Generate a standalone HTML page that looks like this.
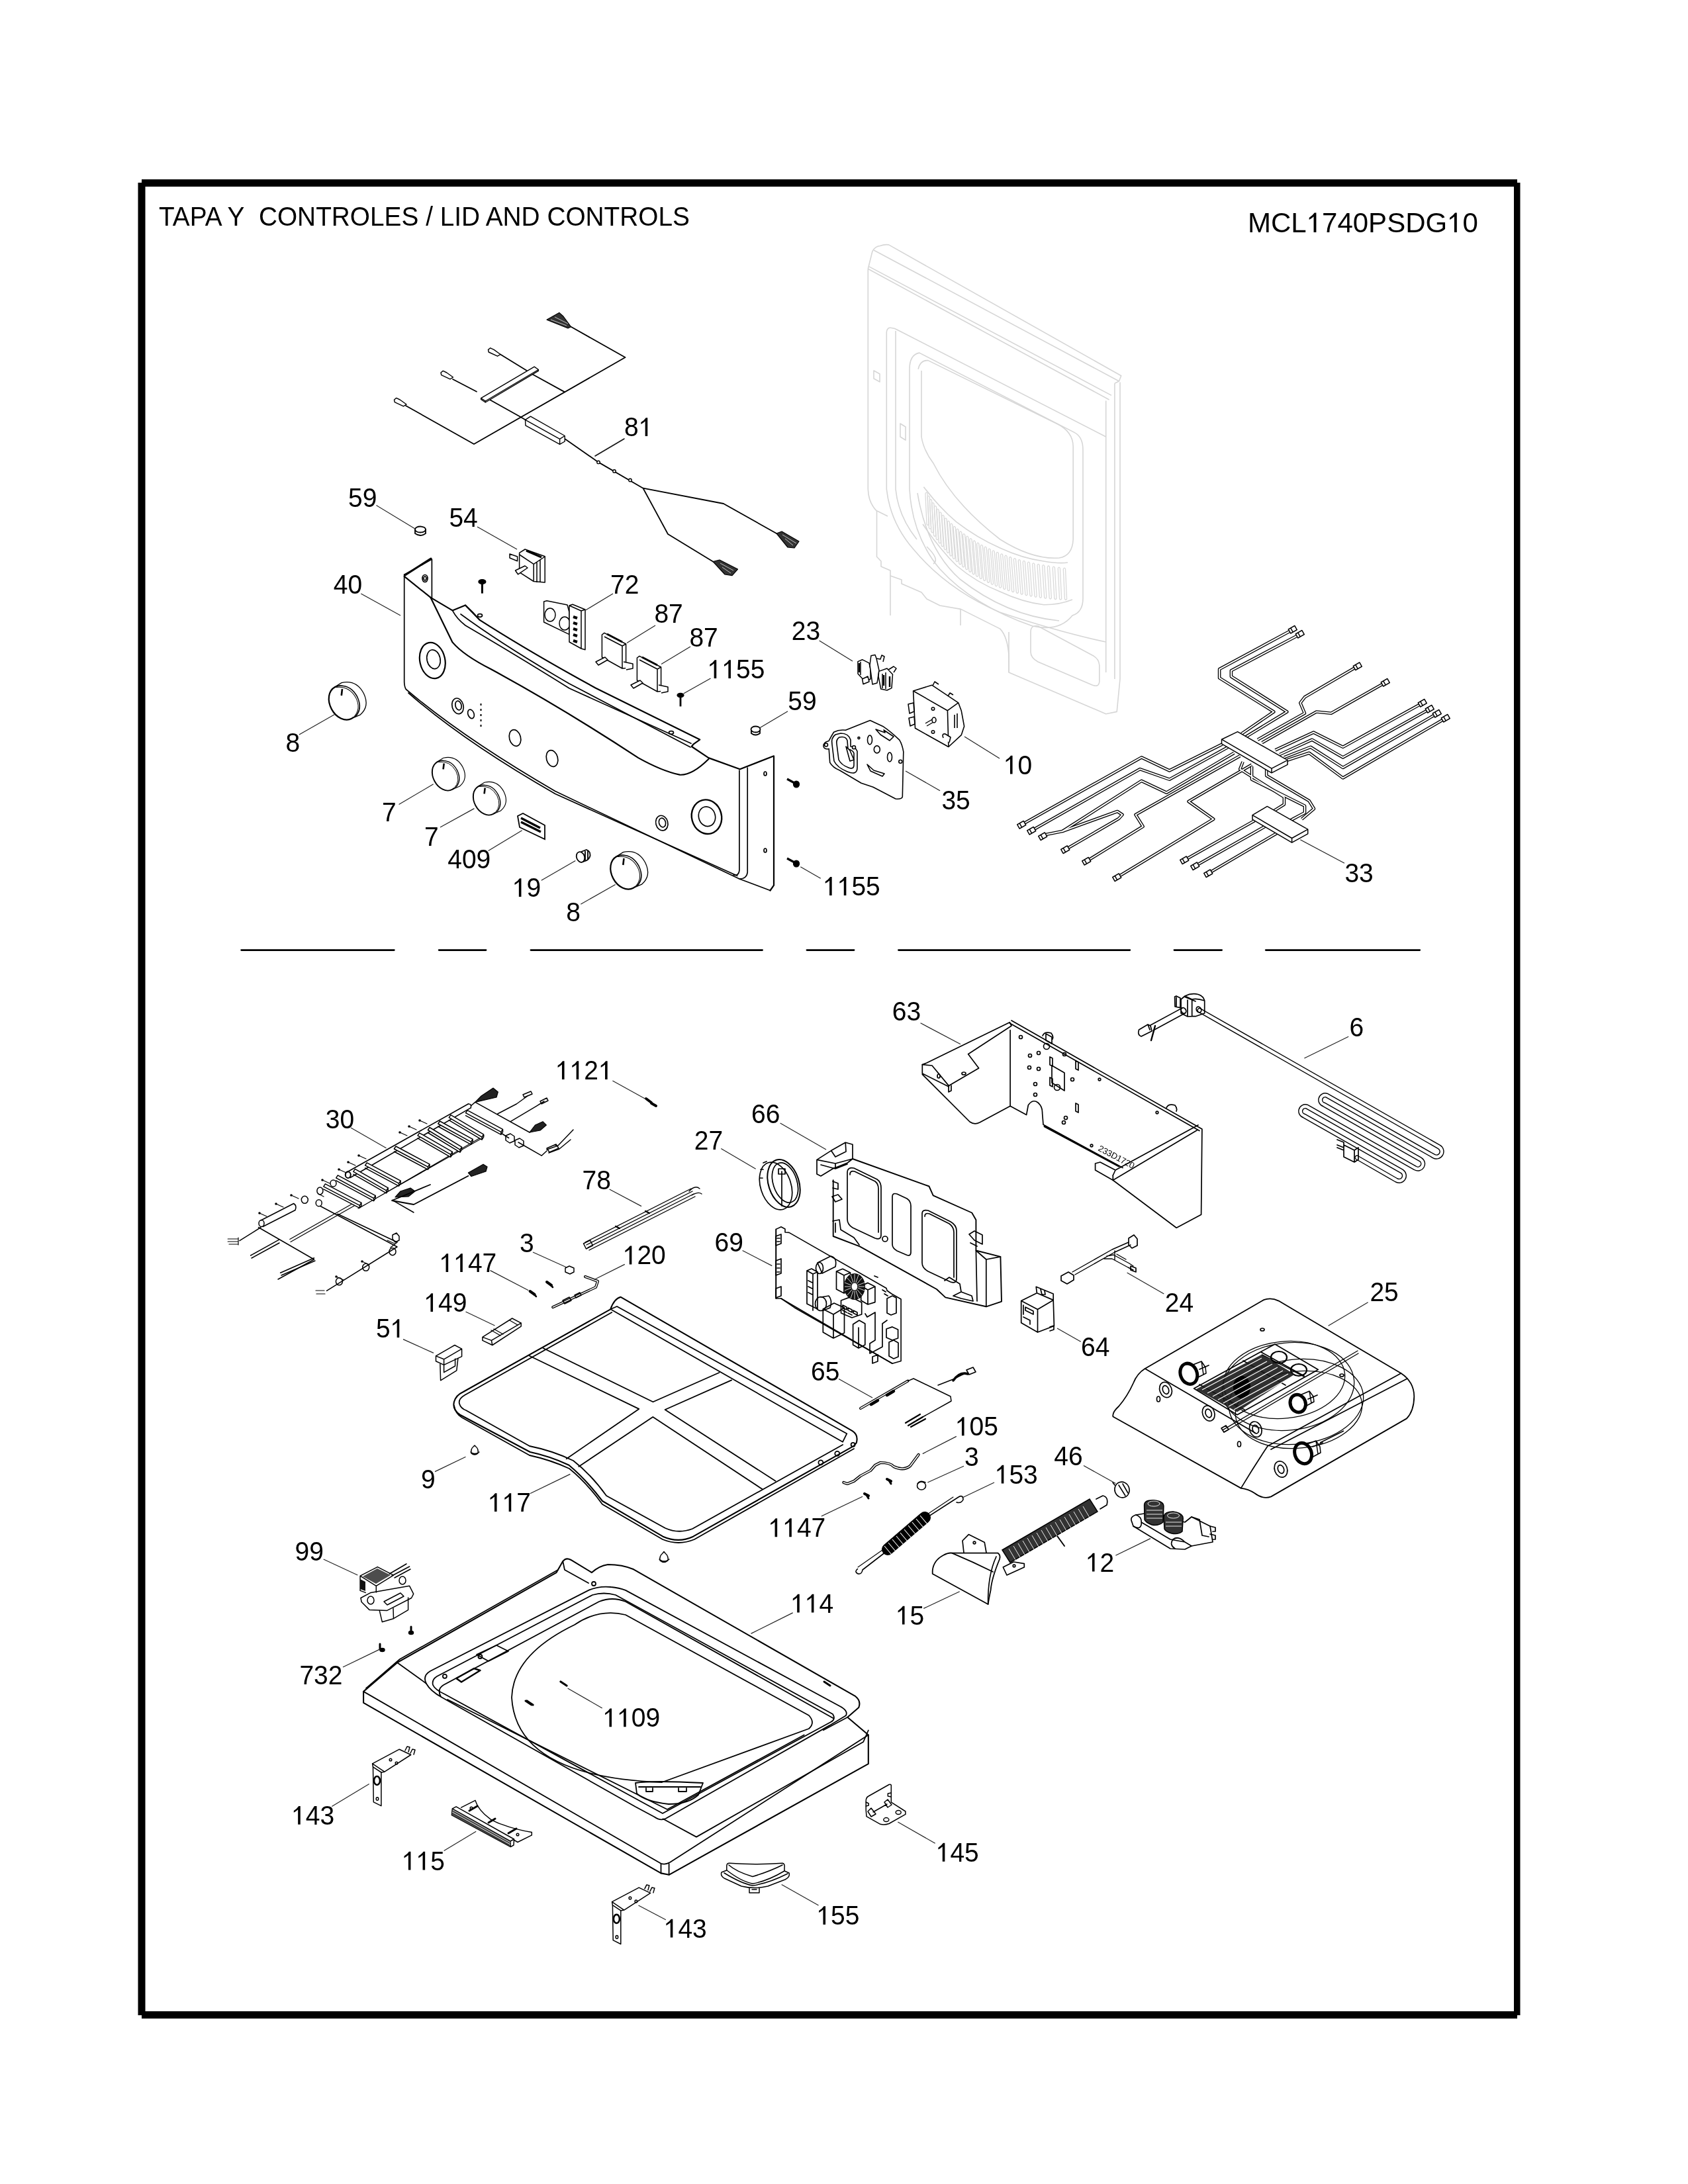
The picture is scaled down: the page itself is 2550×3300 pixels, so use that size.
<!DOCTYPE html><html><head><meta charset="utf-8"><style>html,body{margin:0;padding:0;background:#fff;width:2550px;height:3300px;overflow:hidden}svg{display:block;will-change:transform}text{font-family:"Liberation Sans",sans-serif;fill:#000}</style></head><body>
<svg width="2550" height="3300" viewBox="0 0 2550 3300">
<g fill="#000"><rect x="214" y="271" width="2078" height="11"/><rect x="208.5" y="276" width="11" height="2769"/><rect x="2287" y="276" width="9.5" height="2769"/><rect x="214" y="3039" width="2078" height="11"/></g>
<text x="240" y="341" font-size="38.8" transform="translate(240,341) scale(1,1.04) translate(-240,-341)">TAPA Y&#160; CONTROLES / LID AND CONTROLS</text>
<text x="1885" y="351" font-size="42">MCL<tspan fill="transparent">1</tspan>740PSDG<tspan fill="transparent">1</tspan>0</text>
<path d="M10.84,0 L14.70,0 L14.70,-29.40 L11.97,-29.40 Q9.24,-25.20 3.99,-22.05 L3.99,-19.11 Q7.98,-21.00 10.84,-23.73 Z" fill="#000" transform="translate(1973.7,351)"/>
<path d="M10.84,0 L14.70,0 L14.70,-29.40 L11.97,-29.40 Q9.24,-25.20 3.99,-22.05 L3.99,-19.11 Q7.98,-21.00 10.84,-23.73 Z" fill="#000" transform="translate(2186.1,351)"/>
<g stroke="#000" stroke-width="2.8" stroke-linecap="round">
<line x1="364.7" y1="1435.6" x2="595.3" y2="1435.6"/>
<line x1="663.2" y1="1435.6" x2="734" y2="1435.6"/>
<line x1="802" y1="1435.6" x2="1151.5" y2="1435.6"/>
<line x1="1219" y1="1435.6" x2="1290" y2="1435.6"/>
<line x1="1357.5" y1="1435.6" x2="1706.8" y2="1435.6"/>
<line x1="1774" y1="1435.6" x2="1845.6" y2="1435.6"/>
<line x1="1912.3" y1="1435.6" x2="2144.7" y2="1435.6"/>
</g>
<g fill="none" stroke="#d6d6d6" stroke-width="1.6" stroke-linejoin="round">
<path d="M1311.3,406.2 L1317.9,379.8 Q1322,372 1329.5,371.5 Q1336,369 1342.6,369.9 L1693.7,567.7 L1690.5,576 L1683.9,579.2"/>
<path d="M1320,378 L1690.5,576 M1313,402.9 L1679,597.4 M1311.3,406.2 L1675.6,604"/>
<path d="M1670.7,605.6 L1670.7,1016 M1683.9,579.2 L1683.9,1026 M1692,577.6 L1692,1026"/>
<path d="M1311.3,406.2 L1311.3,739.1 Q1312,760 1324.5,772.1 L1324.5,841.3 L1331,848 L1331,856 L1345,862 L1345,870 L1362,876 L1362,882 L1392,895 L1400,905 L1420,915 L1451.4,920.4 L1510.8,950.1 Q1522,962 1524,990 L1524,1016 L1670.7,1078.7 L1687.2,1075.4 L1692,1026"/>
<path d="M1339.3,501.8 Q1340,494 1347,495.5 Q1352,496 1355.8,498.5 L1670.7,660 M1339.3,501.8 L1339.3,739.1 Q1345,790 1380,830 Q1430,890 1510,925 Q1600,955 1670.7,970"/>
<path d="M1353,500 L1353,739 Q1357,780 1385,815"/>
<path d="M1374,557.8 Q1374,536 1388.8,533.1 L1622.9,653.4 Q1636,660 1636,680 L1636,904 Q1636,925 1620,930 Q1600,955 1560,946 Q1470,915 1420,860 Q1378,810 1374,739 Z"/>
<path d="M1387.1,557.8 Q1390,544 1402,544.6 L1596.5,640.2 Q1621,652 1621.2,675 L1621.2,815 Q1620,840 1600,843 Q1560,846 1510.8,815 Q1440,760 1410,700 Q1395,680 1392,660 L1392,560"/>
<path d="M1395.4,735.8 Q1420,768 1444.8,788.6 Q1475,812 1510.8,828.1 Q1545,844 1576.7,848 Q1600,852 1613,850"/>
<path d="M1394,792 Q1420,830 1444.8,854.5 Q1475,880 1510.8,894 Q1545,910 1576.7,913.8 Q1600,914 1620,906"/>
<path d="M1386,745 Q1400,830 1450,875 Q1520,930 1600,938"/>
<path d="M1325,772 L1341,780 M1400,826 Q1420,845 1410,852 M1524,1016 L1524,955 M1557,955 Q1557,944 1568,946 L1650,990 Q1660,995 1660.8,1005 L1660.8,1030 Q1660,1039 1650,1035 L1568,1000 Q1557,994 1557,985 Z"/>
<path d="M1345,870 L1345,930 M1451,920 L1451,945 M1320,560 l0,12 l9,5 l0,-12 Z M1360,640 l0,20 l8,5 l0,-20 Z"/>
</g>
<g fill="none" stroke="#dadada" stroke-width="1.3">
<path d="M1397.9,745.7 L1400.0,792.0 Q1401.6,795.0 1403.2,792.0 L1401.1,745.7 Q1399.5,742.7 1397.9,745.7"/>
<path d="M1401.1,750.9 L1403.4,797.7 Q1405.0,800.7 1406.6,797.7 L1404.3,750.9 Q1402.7,747.9 1401.1,750.9"/>
<path d="M1404.3,756.0 L1406.9,803.4 Q1408.5,806.4 1410.1,803.4 L1407.5,756.0 Q1405.9,753.0 1404.3,756.0"/>
<path d="M1407.7,761.1 L1410.6,808.9 Q1412.2,811.9 1413.8,808.9 L1410.9,761.1 Q1409.3,758.1 1407.7,761.1"/>
<path d="M1411.3,765.9 L1414.3,814.2 Q1415.9,817.2 1417.5,814.2 L1414.5,765.9 Q1412.9,762.9 1411.3,765.9"/>
<path d="M1415.0,770.7 L1418.2,819.4 Q1419.8,822.4 1421.4,819.4 L1418.2,770.7 Q1416.6,767.7 1415.0,770.7"/>
<path d="M1418.8,775.3 L1422.2,824.4 Q1423.8,827.4 1425.4,824.4 L1422.0,775.3 Q1420.4,772.3 1418.8,775.3"/>
<path d="M1422.8,779.9 L1426.4,829.3 Q1428.0,832.3 1429.6,829.3 L1426.0,779.9 Q1424.4,776.9 1422.8,779.9"/>
<path d="M1426.9,784.3 L1430.6,834.0 Q1432.2,837.0 1433.8,834.0 L1430.1,784.3 Q1428.5,781.3 1426.9,784.3"/>
<path d="M1431.2,788.6 L1435.0,838.6 Q1436.6,841.6 1438.2,838.6 L1434.3,788.6 Q1432.8,785.6 1431.2,788.6"/>
<path d="M1435.5,792.7 L1439.5,843.0 Q1441.1,846.0 1442.7,843.0 L1438.7,792.7 Q1437.1,789.7 1435.5,792.7"/>
<path d="M1440.1,796.8 L1444.2,847.3 Q1445.8,850.3 1447.4,847.3 L1443.3,796.8 Q1441.7,793.8 1440.1,796.8"/>
<path d="M1444.7,800.7 L1448.9,851.4 Q1450.5,854.4 1452.1,851.4 L1447.9,800.7 Q1446.3,797.7 1444.7,800.7"/>
<path d="M1449.5,804.5 L1453.8,855.4 Q1455.4,858.4 1457.0,855.4 L1452.7,804.5 Q1451.1,801.5 1449.5,804.5"/>
<path d="M1454.5,808.2 L1458.8,859.2 Q1460.4,862.2 1462.0,859.2 L1457.7,808.2 Q1456.1,805.2 1454.5,808.2"/>
<path d="M1459.5,811.7 L1464.0,862.9 Q1465.6,865.9 1467.2,862.9 L1462.7,811.7 Q1461.1,808.7 1459.5,811.7"/>
<path d="M1464.8,815.2 L1469.2,866.4 Q1470.8,869.4 1472.4,866.4 L1468.0,815.2 Q1466.4,812.2 1464.8,815.2"/>
<path d="M1470.1,818.5 L1474.6,869.7 Q1476.2,872.7 1477.8,869.7 L1473.3,818.5 Q1471.7,815.5 1470.1,818.5"/>
<path d="M1475.6,821.7 L1480.1,873.0 Q1481.7,876.0 1483.3,873.0 L1478.8,821.7 Q1477.2,818.7 1475.6,821.7"/>
<path d="M1481.2,824.8 L1485.7,876.0 Q1487.3,879.0 1488.9,876.0 L1484.4,824.8 Q1482.8,821.8 1481.2,824.8"/>
<path d="M1487.0,827.7 L1491.5,878.9 Q1493.1,881.9 1494.7,878.9 L1490.2,827.7 Q1488.6,824.7 1487.0,827.7"/>
<path d="M1492.9,830.6 L1497.4,881.7 Q1499.0,884.7 1500.6,881.7 L1496.1,830.6 Q1494.5,827.6 1492.9,830.6"/>
<path d="M1499.0,833.3 L1503.4,884.3 Q1505.0,887.3 1506.6,884.3 L1502.2,833.3 Q1500.6,830.3 1499.0,833.3"/>
<path d="M1505.1,835.9 L1509.5,886.7 Q1511.1,889.7 1512.7,886.7 L1508.3,835.9 Q1506.7,832.9 1505.1,835.9"/>
<path d="M1511.5,838.4 L1515.8,889.0 Q1517.4,892.0 1519.0,889.0 L1514.7,838.4 Q1513.1,835.4 1511.5,838.4"/>
<path d="M1517.9,840.7 L1522.1,891.1 Q1523.7,894.1 1525.3,891.1 L1521.1,840.7 Q1519.5,837.7 1517.9,840.7"/>
<path d="M1524.5,843.0 L1528.6,893.1 Q1530.2,896.1 1531.8,893.1 L1527.7,843.0 Q1526.1,840.0 1524.5,843.0"/>
<path d="M1531.3,845.1 L1535.3,894.9 Q1536.9,897.9 1538.5,894.9 L1534.5,845.1 Q1532.9,842.1 1531.3,845.1"/>
<path d="M1538.2,847.1 L1542.0,896.6 Q1543.6,899.6 1545.2,896.6 L1541.3,847.1 Q1539.8,844.1 1538.2,847.1"/>
<path d="M1545.2,848.9 L1548.9,898.2 Q1550.5,901.2 1552.1,898.2 L1548.4,848.9 Q1546.8,845.9 1545.2,848.9"/>
<path d="M1552.3,850.7 L1555.9,899.5 Q1557.5,902.5 1559.1,899.5 L1555.5,850.7 Q1553.9,847.7 1552.3,850.7"/>
<path d="M1559.6,852.3 L1563.0,900.8 Q1564.6,903.8 1566.2,900.8 L1562.8,852.3 Q1561.2,849.3 1559.6,852.3"/>
<path d="M1567.0,853.8 L1570.3,901.8 Q1571.9,904.8 1573.5,901.8 L1570.2,853.8 Q1568.6,850.8 1567.0,853.8"/>
<path d="M1574.6,855.2 L1577.7,902.7 Q1579.3,905.7 1580.9,902.7 L1577.8,855.2 Q1576.2,852.2 1574.6,855.2"/>
<path d="M1582.3,856.5 L1585.2,903.5 Q1586.8,906.5 1588.4,903.5 L1585.5,856.5 Q1583.9,853.5 1582.3,856.5"/>
<path d="M1590.2,857.6 L1592.8,904.1 Q1594.4,907.1 1596.0,904.1 L1593.4,857.6 Q1591.8,854.6 1590.2,857.6"/>
<path d="M1598.2,858.7 L1600.5,904.6 Q1602.1,907.6 1603.7,904.6 L1601.4,858.7 Q1599.8,855.7 1598.2,858.7"/>
<path d="M1606.3,859.6 L1608.4,904.9 Q1610.0,907.9 1611.6,904.9 L1609.5,859.6 Q1607.9,856.6 1606.3,859.6"/>
</g>
<g fill="none" stroke="#000" stroke-width="1.8" stroke-linejoin="round" stroke-linecap="round">
<path d="M862.6,493.8 L944.5,540 L716,671 L613,613"/>
<path d="M684,573 L720,591.7 M739,603.5 L786.4,630 L793.5,634.3"/>
<path d="M756,535.5 L795.8,560 M803.4,565 L852.7,592.1"/>
<path d="M853.2,663 L904,698.4 L971.5,737.7 L1093,761 L1173,806 M971.5,737.7 L1009,807 L1077,848.5"/>
<path d="M899,689 L943,663" stroke-width="1.5" stroke="#111"/>
</g>
<g fill="#fff" stroke="#000" stroke-width="1.4" stroke-linejoin="round">
<path d="M726.6,601.6 L807.2,554.2 L813.4,558.5 L733.3,606 Z M733.3,606 L733.3,608 L813.4,560.4 L813.4,558.5 M726.6,601.6 L726.6,603.5 L733.3,608"/>
<path d="M793.5,634.3 L801.5,629.1 L853.2,658.5 L845.6,663.4 Z M793.5,634.3 L793.9,642.8 L845.6,671.3 L853.2,667 L853.2,658.5 M845.6,663.4 L845.6,671.3"/>
<circle cx="904" cy="698.4" r="2.2"/><circle cx="928" cy="712" r="2.2"/><circle cx="952" cy="725.5" r="2.2"/>
<path d="M737.5,528.4 L740.8,525.8 L746.2,528.4 L756,535.5 L751.5,538.2 L738.2,532 Z"/>
<path d="M666,563 L669.3,560.4 L674.7,563 L684.5,570 L680,572.8 L666.7,566.6 Z"/>
<path d="M595.5,604 L598.8,601.4 L604.2,604 L614,611 L609.5,613.8 L596.2,607.6 Z"/>
</g>
<g fill="#333" stroke="#000" stroke-width="1.2" stroke-linejoin="round">
<path d="M826.1,483.1 L844.8,472.4 L851,478 L862.6,493.8 L858,496 L843,490 Z"/>
<path d="M1173,806 L1181,803 L1207,818 L1200,828 L1190,827 Z"/>
<path d="M1077,848.5 L1087,846 L1114.5,860 L1106,869.6 L1095,868 Z"/>
</g>
<g stroke="#fff" stroke-width="0.7">
<path d="M832,483 L856,492 M838,479 L858,489 M1182,808 L1203,821 M1186,814 L1198,824 M1088,851 L1108,862 M1091,857 L1104,866"/>
</g>
<g fill="none" stroke="#000" stroke-width="1.7" stroke-linejoin="round" stroke-linecap="round">
<!-- panel 40 outline -->
<path d="M610.7,868.2 L652.4,845.1 L652.4,902.9"/>
<path d="M610.7,870.9 L650.6,902.9 L683.5,922.4 L703,914.4 L724.4,936.6 Q800,985 900,1039.7 L1057.2,1117.6 L1047.7,1124.3 L1044.8,1128 L1070.4,1145.1 L1117.8,1162.2 L1169,1142.3 L1169,1337.7 L1163.5,1345.5" stroke-width="2.2"/>
<path d="M612,869 L651,844" stroke-width="3"/>
<path d="M610.7,868.2 L610.7,1030.8 Q611,1038 613.3,1041.5 Q700,1115 838.8,1195.5 L1117,1328 L1163.5,1345.5"/>
<path d="M617,1047 Q700,1120 838.8,1199.5 L1113.7,1323.3"/>
<path d="M650.6,902.9 L683.5,970.4 Q700,990 742,1011.3 Q850,1070 964.3,1145.1 Q1000,1165 1026.8,1170.7 Q1045,1172 1070.4,1147" stroke-width="2.2"/>
<path d="M683.5,922.4 Q690,935 703,945 Q780,990 860,1040 L1043.9,1123.3"/>
<path d="M703,914.4 Q715,925 724.4,936.6"/>
<path d="M696,928 Q760,975 860,1033 L1043,1129"/>
<path d="M1116.9,1164 L1116.9,1315 Q1116,1324 1108,1322"/>
<path d="M1129.2,1160 L1129.2,1318 Q1128,1328 1117,1328"/>
<ellipse cx="653.3" cy="998" rx="19" ry="27.5" transform="rotate(-12 653.3 998)" stroke-width="2.2"/>
<ellipse cx="655" cy="996.2" rx="10" ry="14.5" transform="rotate(-12 655 996.2)"/>
<ellipse cx="691.5" cy="1066.8" rx="8.5" ry="12" transform="rotate(-15 691.5 1066.8)"/>
<ellipse cx="692.5" cy="1066" rx="4.5" ry="7" transform="rotate(-15 692.5 1066)"/>
<ellipse cx="711.5" cy="1078.8" rx="4.5" ry="7" transform="rotate(-20 711.5 1078.8)"/>
<ellipse cx="778" cy="1115" rx="8.5" ry="12.5" transform="rotate(-15 778 1115)"/>
<ellipse cx="834" cy="1146" rx="8.5" ry="12.5" transform="rotate(-15 834 1146)"/>
<ellipse cx="999.8" cy="1243.6" rx="9" ry="11.5" transform="rotate(-15 999.8 1243.6)"/>
<ellipse cx="1000.5" cy="1243" rx="5" ry="7" transform="rotate(-15 1000.5 1243)"/>
<ellipse cx="1067.5" cy="1234.2" rx="22.5" ry="26" transform="rotate(-15 1067.5 1234.2)" stroke-width="2.4"/>
<ellipse cx="1068" cy="1233.7" rx="12.5" ry="15" transform="rotate(-15 1068 1233.7)"/>
<ellipse cx="642" cy="874" rx="4" ry="5.5"/><ellipse cx="642" cy="874" rx="2" ry="3"/>
<ellipse cx="725" cy="930" rx="3.5" ry="2.3"/>
<ellipse cx="1014" cy="1107" rx="3.5" ry="2.3"/>
<ellipse cx="1156" cy="1169" rx="2" ry="3"/>
<ellipse cx="1156" cy="1285" rx="2" ry="3"/>
</g>
<g stroke="#000" stroke-width="2" stroke-dasharray="3,5"><path d="M726.5,1063 L726.5,1102"/></g>
<!-- knobs -->
<g fill="#fff" stroke="#000" stroke-width="1.8">
<g transform="translate(518.5,1062) scale(1.0) rotate(-28)">
<path d="M-2,-27 L12,-28 Q34,-22 34,2 Q33,24 14,28 L2,27" stroke-width="1.3"/>
<ellipse cx="0" cy="0" rx="20" ry="27" stroke-width="2.2"/>
<path d="M4,-26.5 Q23,-20 23,2 Q22,22 6,27" stroke-width="1.6"/>
<path d="M1,-26 Q20,-19 20.5,2 Q20,21 4,26.5" stroke-width="1"/>
</g>
<path d="M517.0,1041.0 l-1.2,10.0" stroke-width="2.6"/>
<g transform="translate(672,1172) scale(0.88) rotate(-28)">
<path d="M-2,-27 L12,-28 Q34,-22 34,2 Q33,24 14,28 L2,27" stroke-width="1.3"/>
<ellipse cx="0" cy="0" rx="20" ry="27" stroke-width="2.2"/>
<path d="M4,-26.5 Q23,-20 23,2 Q22,22 6,27" stroke-width="1.6"/>
<path d="M1,-26 Q20,-19 20.5,2 Q20,21 4,26.5" stroke-width="1"/>
</g>
<path d="M670.7,1153.5 l-1.1,8.8" stroke-width="2.6"/>
<g transform="translate(734,1209) scale(0.88) rotate(-28)">
<path d="M-2,-27 L12,-28 Q34,-22 34,2 Q33,24 14,28 L2,27" stroke-width="1.3"/>
<ellipse cx="0" cy="0" rx="20" ry="27" stroke-width="2.2"/>
<path d="M4,-26.5 Q23,-20 23,2 Q22,22 6,27" stroke-width="1.6"/>
<path d="M1,-26 Q20,-19 20.5,2 Q20,21 4,26.5" stroke-width="1"/>
</g>
<path d="M732.7,1190.5 l-1.1,8.8" stroke-width="2.6"/>
<g transform="translate(944,1318) scale(1.0) rotate(-28)">
<path d="M-2,-27 L12,-28 Q34,-22 34,2 Q33,24 14,28 L2,27" stroke-width="1.3"/>
<ellipse cx="0" cy="0" rx="20" ry="27" stroke-width="2.2"/>
<path d="M4,-26.5 Q23,-20 23,2 Q22,22 6,27" stroke-width="1.6"/>
<path d="M1,-26 Q20,-19 20.5,2 Q20,21 4,26.5" stroke-width="1"/>
</g>
<path d="M942.5,1297.0 l-1.2,10.0" stroke-width="2.6"/>
<!-- plugs 59 -->
<path d="M627,800 Q635,795 643,800 L643,806 Q635,812 627,806 Z"/><ellipse cx="635" cy="800" rx="8" ry="4.5"/>
<path d="M1134.9,1103 Q1141,1097 1148,1102 L1148,1108 Q1141,1113 1134.9,1108 Z"/><ellipse cx="1141.5" cy="1102" rx="7" ry="4.5"/>
<!-- 19 -->
<path d="M878,1287 L886,1284 Q892,1286 891.5,1293 Q890,1299 884,1301 L878,1303"/><ellipse cx="877" cy="1295" rx="6" ry="8" transform="rotate(-20 877 1295)"/><path d="M884,1286 l0,14 M888,1285 l0,13"/>
<!-- 409 badge -->
<path d="M782,1233 L790,1229 L823,1247 L823,1268 L785,1250 Z"/><path d="M787,1236 L816,1251 M787,1242 L817,1257" stroke-width="3.5"/>
</g>
<!-- screws -->
<g fill="#000" stroke="#000" stroke-width="1.2">
<ellipse cx="728.4" cy="879" rx="5.5" ry="3.5"/><path d="M728.4,881 L728.4,896.6" stroke-width="3"/>
<ellipse cx="1028" cy="1050.5" rx="5" ry="3.2"/><path d="M1028,1052 L1028,1067.4" stroke-width="2.8"/>
<ellipse cx="1203" cy="1185" rx="4.5" ry="5"/><path d="M1200,1183 L1189,1177" stroke-width="3.2"/>
<ellipse cx="1203" cy="1305" rx="4.5" ry="5"/><path d="M1200,1303 L1189,1297" stroke-width="3.2"/>
</g>
<!-- 54 switch -->
<g fill="#fff" stroke="#000" stroke-width="1.5" stroke-linejoin="round">
<path d="M784.6,835.4 L793.1,830 L823.2,840.8 L823.2,880 L806.2,878.5 L784.6,864.7 Z"/>
<path d="M784.6,838 L806.2,852.3 L806.2,878.5 M806.2,852.3 L823.2,841 M811,850 L811,880 M816,846 L816,880"/>
<path d="M770,837 L781.6,841 L781.6,847.7 L770,843 Z"/>
<path d="M778.5,862 L793,855 L797,858 L782.5,867.8 Z"/>
<path d="M795,832 L818,842" stroke-width="3"/>
</g>
<!-- 72 -->
<g fill="#fff" stroke="#000" stroke-width="1.5" stroke-linejoin="round">
<path d="M821.6,909 L826,907.8 L857,914 L860,925 L860,958.6 L821.6,940 Z"/>
<ellipse cx="831" cy="929" rx="8" ry="10"/><ellipse cx="853" cy="942" rx="8" ry="10"/>
<path d="M860,915 L865,913.2 L884,921 L884,981.7 L878,980 L860,970 Z M860,915 L878,923 L884,921 M878,923 L878,980"/>
<path d="M866,932 l6,2 M866,941 l6,2 M866,950 l6,2 M866,959 l6,2 M866,968 l6,2" stroke-width="4"/>
</g>
<!-- 87 x2 -->
<g fill="#fff" stroke="#000" stroke-width="1.5" stroke-linejoin="round">
<g transform="translate(0,0)"><path d="M909.4,959 L913,956.3 L945.6,973 L945.6,1009.5 L940,1010 L909.4,993 Z M913,962 L940,976 L940,1010 M940,976 L945.6,973"/><path d="M917,958 L940,970" stroke-width="3"/><path d="M900,1000 L914,993 L918,997 L904,1005 Z"/><path d="M942,1000 L956,1003 L956,1010 L946,1012"/></g>
<g transform="translate(53,35)"><path d="M909.4,959 L913,956.3 L945.6,973 L945.6,1009.5 L940,1010 L909.4,993 Z M913,962 L940,976 L940,1010 M940,976 L945.6,973"/><path d="M917,958 L940,970" stroke-width="3"/><path d="M900,1000 L914,993 L918,997 L904,1005 Z"/><path d="M942,1000 L956,1003 L956,1010 L946,1012"/></g>
</g>
<!-- 23 -->
<g fill="#fff" stroke="#000" stroke-width="1.5" stroke-linejoin="round">
<path d="M1295.9,999.6 L1302.6,996.7 L1313,1001.8 L1315,1012 L1315,1026 L1307,1030 L1296,1018 Z M1300,1000 L1300,1020"/>
<path d="M1315.9,990.7 L1322,989.5 L1324,995 L1328,1013 L1325,1032 L1318,1034 L1314,1005 Z M1324,995 L1330,996 L1332,990 L1336,992 L1334,1000"/>
<path d="M1327.7,1014.4 L1340,1010 L1348.5,1018.9 L1347,1039.6 L1340,1043 L1330.7,1041 L1327,1022 Z M1333,1018 L1333,1040 M1338,1016 L1338,1041"/>
<path d="M1342,1012 L1350,1007 L1354,1010 L1350,1016"/>
<path d="M1302.6,1026 L1311,1022 L1313,1030 L1304,1033.7 Z"/>
</g>
<g stroke="#000" stroke-width="2.5"><path d="M1298,1002 l0,14 M1335,1020 l0,16 M1344,1022 l0,16"/></g>
<!-- 10 timer -->
<g fill="#fff" stroke="#000" stroke-width="1.6" stroke-linejoin="round">
<path d="M1379.6,1044 L1407.7,1035.2 L1447.7,1061.8 L1452.2,1073.7 L1456.6,1097.4 L1452.2,1110.7 L1432.9,1128.5 L1382.5,1100.3 Z"/>
<path d="M1379.6,1044 L1431.4,1073.7 L1432.9,1128.5 M1431.4,1073.7 L1447.7,1061.8"/>
<path d="M1409,1036 L1412,1030 L1418,1034 M1432,1052 l3,-5 l5,3 M1372,1064 L1380,1062 L1381,1075 L1374,1078 Z M1373,1085 L1381,1083 L1382,1094 L1375,1097 Z"/>
<path d="M1398,1093 L1410,1086 M1400,1097 L1412,1090" stroke-width="1.4"/>
<ellipse cx="1411" cy="1088" rx="3" ry="4"/><circle cx="1409.5" cy="1071" r="2.2"/><circle cx="1409.5" cy="1106" r="2.2"/>
<path d="M1425,1115 Q1422,1108 1428,1109 L1436,1114 L1434,1122"/>
<path d="M1442,1080 l0,20 M1446,1078 l0,22"/>
</g>
<!-- 35 plate -->
<g fill="#fff" stroke="#000" stroke-width="1.6" stroke-linejoin="round">
<path d="M1314.4,1088.5 L1277.4,1103.3 Q1268,1102 1259.6,1106.3 Q1256,1112 1252,1119.6 Q1243,1122 1244,1128 Q1246,1133 1252.2,1131.4 L1253.7,1152.2 Q1258,1160 1268.5,1164 L1301,1183.3 L1318.9,1189.2 L1352.9,1207 Q1362,1208 1363.3,1204 L1364.8,1135.9 Q1363,1125 1358.8,1118.1 Q1345,1105 1333.7,1097.4 Z"/>
<path d="M1262,1110 Q1255,1115 1257,1125 L1260,1150 Q1265,1160 1280,1166 Q1295,1172 1295,1160 L1295,1135 Q1292,1128 1285,1128 L1285,1118 Q1282,1108 1270,1108 Z"/>
<path d="M1268,1114 Q1263,1117 1264,1124 L1267,1148 Q1271,1156 1282,1160 Q1290,1163 1290,1156 L1290,1138 Q1288,1133 1281,1132 L1280,1119 Q1278,1112 1268,1114 Z"/>
<path d="M1278,1128 L1284,1134 L1290,1148 L1284,1150 Z"/>
<ellipse cx="1324.8" cy="1132.4" rx="4.5" ry="5.5"/><ellipse cx="1314" cy="1118" rx="3.5" ry="7"/><ellipse cx="1344" cy="1144" rx="3.5" ry="7"/>
<path d="M1323,1102 L1337,1107 L1335,1103 L1350,1113 L1344,1119 L1330,1110 Z"/><path d="M1310,1155 L1320,1164 L1336,1169 L1333,1173 L1315,1165 Z"/>
<circle cx="1248" cy="1125.5" r="2.5"/><circle cx="1360.3" cy="1150.7" r="2.5"/><circle cx="1290" cy="1129.2" r="2.5"/><circle cx="1297.4" cy="1115.1" r="1.5"/>
</g>
<g fill="none" stroke-linejoin="round" stroke-linecap="butt">
<polyline points="1846.6,1124.4 1766.6,1164.4 1724.4,1144.4 1548.0,1243.5" stroke="#000" stroke-width="4.6"/>
<polyline points="1855.4,1128.8 1766.6,1177.7 1722.2,1162.1 1563.0,1252.5" stroke="#000" stroke-width="4.6"/>
<polyline points="1864.3,1137.7 1762.1,1197.7 1724.4,1179.9 1605.0,1256.0 1580.0,1261.0" stroke="#000" stroke-width="4.6"/>
<polyline points="1614.0,1281.0 1690.0,1237.0 1695.5,1231.0 1688.0,1226.0 1605.0,1256.0" stroke="#000" stroke-width="4.6"/>
<polyline points="1873.2,1142.2 1715.5,1231.0 1726.6,1248.8 1646.0,1298.5" stroke="#000" stroke-width="4.6"/>
<polyline points="1891.0,1155.5 1795.5,1211.0 1833.2,1237.7 1692.0,1323.0" stroke="#000" stroke-width="4.6"/>
<polyline points="1875.4,1108.8 1924.3,1075.5 1842.1,1024.4 1842.1,1011.1 1948.0,954.0" stroke="#000" stroke-width="4.6"/>
<polyline points="1882.1,1113.3 1944.3,1075.5 1859.9,1022.2 1859.9,1013.3 1959.0,961.0" stroke="#000" stroke-width="4.6"/>
<polyline points="1899.9,1117.7 1970.9,1077.7 1964.3,1062.2 1971.0,1053.3 2046.0,1009.5" stroke="#000" stroke-width="4.6"/>
<polyline points="1906.5,1122.2 1988.7,1075.5 2011.0,1077.7 2088.0,1034.0" stroke="#000" stroke-width="4.6"/>
<polyline points="1926.5,1133.3 1984.3,1106.6 2028.7,1128.8 2144.0,1065.0" stroke="#000" stroke-width="4.6"/>
<polyline points="1933.2,1140.0 1982.1,1117.7 2028.7,1144.4 2155.0,1074.0" stroke="#000" stroke-width="4.6"/>
<polyline points="1939.9,1144.4 1979.9,1128.8 2028.7,1159.9 2166.0,1081.0" stroke="#000" stroke-width="4.6"/>
<polyline points="1944.3,1148.8 1977.6,1137.7 2028.7,1175.5 2179.0,1088.0" stroke="#000" stroke-width="4.6"/>
<polyline points="1877.6,1151.0 1873.2,1162.1 1939.9,1204.4 1939.9,1215.5 1922.1,1226.6" stroke="#000" stroke-width="4.6"/>
<polyline points="1891.0,1158.0 1891.0,1177.7 1971.0,1217.7 1971.0,1228.0 1948.8,1239.9" stroke="#000" stroke-width="4.6"/>
<polyline points="1913.2,1160.0 1913.2,1172.0 1977.6,1210.0 1985.0,1222.0 1966.5,1237.7" stroke="#000" stroke-width="4.6"/>
<polyline points="1895.4,1239.9 1794.0,1297.0" stroke="#000" stroke-width="4.6"/>
<polyline points="1911.0,1248.8 1810.0,1306.0" stroke="#000" stroke-width="4.6"/>
<polyline points="1931.0,1257.7 1830.0,1317.0" stroke="#000" stroke-width="4.6"/>
<polyline points="1846.6,1124.4 1766.6,1164.4 1724.4,1144.4 1548.0,1243.5" stroke="#fff" stroke-width="2"/>
<polyline points="1855.4,1128.8 1766.6,1177.7 1722.2,1162.1 1563.0,1252.5" stroke="#fff" stroke-width="2"/>
<polyline points="1864.3,1137.7 1762.1,1197.7 1724.4,1179.9 1605.0,1256.0 1580.0,1261.0" stroke="#fff" stroke-width="2"/>
<polyline points="1614.0,1281.0 1690.0,1237.0 1695.5,1231.0 1688.0,1226.0 1605.0,1256.0" stroke="#fff" stroke-width="2"/>
<polyline points="1873.2,1142.2 1715.5,1231.0 1726.6,1248.8 1646.0,1298.5" stroke="#fff" stroke-width="2"/>
<polyline points="1891.0,1155.5 1795.5,1211.0 1833.2,1237.7 1692.0,1323.0" stroke="#fff" stroke-width="2"/>
<polyline points="1875.4,1108.8 1924.3,1075.5 1842.1,1024.4 1842.1,1011.1 1948.0,954.0" stroke="#fff" stroke-width="2"/>
<polyline points="1882.1,1113.3 1944.3,1075.5 1859.9,1022.2 1859.9,1013.3 1959.0,961.0" stroke="#fff" stroke-width="2"/>
<polyline points="1899.9,1117.7 1970.9,1077.7 1964.3,1062.2 1971.0,1053.3 2046.0,1009.5" stroke="#fff" stroke-width="2"/>
<polyline points="1906.5,1122.2 1988.7,1075.5 2011.0,1077.7 2088.0,1034.0" stroke="#fff" stroke-width="2"/>
<polyline points="1926.5,1133.3 1984.3,1106.6 2028.7,1128.8 2144.0,1065.0" stroke="#fff" stroke-width="2"/>
<polyline points="1933.2,1140.0 1982.1,1117.7 2028.7,1144.4 2155.0,1074.0" stroke="#fff" stroke-width="2"/>
<polyline points="1939.9,1144.4 1979.9,1128.8 2028.7,1159.9 2166.0,1081.0" stroke="#fff" stroke-width="2"/>
<polyline points="1944.3,1148.8 1977.6,1137.7 2028.7,1175.5 2179.0,1088.0" stroke="#fff" stroke-width="2"/>
<polyline points="1877.6,1151.0 1873.2,1162.1 1939.9,1204.4 1939.9,1215.5 1922.1,1226.6" stroke="#fff" stroke-width="2"/>
<polyline points="1891.0,1158.0 1891.0,1177.7 1971.0,1217.7 1971.0,1228.0 1948.8,1239.9" stroke="#fff" stroke-width="2"/>
<polyline points="1913.2,1160.0 1913.2,1172.0 1977.6,1210.0 1985.0,1222.0 1966.5,1237.7" stroke="#fff" stroke-width="2"/>
<polyline points="1895.4,1239.9 1794.0,1297.0" stroke="#fff" stroke-width="2"/>
<polyline points="1911.0,1248.8 1810.0,1306.0" stroke="#fff" stroke-width="2"/>
<polyline points="1931.0,1257.7 1830.0,1317.0" stroke="#fff" stroke-width="2"/>
</g>
<g fill="#fff" stroke="#000" stroke-width="1.5" stroke-linejoin="round">
<path d="M1845.5,1117.2 L1869.6,1105.6 L1945,1148.7 L1945,1155.3 L1921,1167.8 L1845.5,1123.8 Z"/><path d="M1845.5,1117.2 L1921,1161.2 L1945,1148.7 M1921,1161.2 L1921,1167.8"/>
<path d="M1892,1231.6 L1914.3,1218.4 L1975.7,1253.2 L1975.7,1259.8 L1951.6,1273.1 L1892,1238.1999999999998 Z"/><path d="M1892,1231.6 L1951.6,1266.5 L1975.7,1253.2 M1951.6,1266.5 L1951.6,1273.1"/>
<g transform="translate(1548,1243.5) rotate(-30)"><rect x="-11" y="-3.5" width="11" height="7"/><path d="M-7,-3.5 l0,7"/></g>
<g transform="translate(1563,1252.5) rotate(-30)"><rect x="-11" y="-3.5" width="11" height="7"/><path d="M-7,-3.5 l0,7"/></g>
<g transform="translate(1580,1261) rotate(-30)"><rect x="-11" y="-3.5" width="11" height="7"/><path d="M-7,-3.5 l0,7"/></g>
<g transform="translate(1614,1281) rotate(-30)"><rect x="-11" y="-3.5" width="11" height="7"/><path d="M-7,-3.5 l0,7"/></g>
<g transform="translate(1646,1298.5) rotate(-30)"><rect x="-11" y="-3.5" width="11" height="7"/><path d="M-7,-3.5 l0,7"/></g>
<g transform="translate(1692,1323) rotate(-30)"><rect x="-11" y="-3.5" width="11" height="7"/><path d="M-7,-3.5 l0,7"/></g>
<g transform="translate(1948,954) rotate(-30)"><rect x="0" y="-3.5" width="11" height="7"/><path d="M4,-3.5 l0,7"/></g>
<g transform="translate(1959,961) rotate(-30)"><rect x="0" y="-3.5" width="11" height="7"/><path d="M4,-3.5 l0,7"/></g>
<g transform="translate(2046,1009.5) rotate(-30)"><rect x="0" y="-3.5" width="11" height="7"/><path d="M4,-3.5 l0,7"/></g>
<g transform="translate(2088,1034) rotate(-30)"><rect x="0" y="-3.5" width="11" height="7"/><path d="M4,-3.5 l0,7"/></g>
<g transform="translate(2144,1065) rotate(-30)"><rect x="0" y="-3.5" width="11" height="7"/><path d="M4,-3.5 l0,7"/></g>
<g transform="translate(2155,1074) rotate(-30)"><rect x="0" y="-3.5" width="11" height="7"/><path d="M4,-3.5 l0,7"/></g>
<g transform="translate(2166,1081) rotate(-30)"><rect x="0" y="-3.5" width="11" height="7"/><path d="M4,-3.5 l0,7"/></g>
<g transform="translate(2179,1088) rotate(-30)"><rect x="0" y="-3.5" width="11" height="7"/><path d="M4,-3.5 l0,7"/></g>
<g transform="translate(1794,1297) rotate(-30)"><rect x="-11" y="-3.5" width="11" height="7"/><path d="M-7,-3.5 l0,7"/></g>
<g transform="translate(1810,1306) rotate(-30)"><rect x="-11" y="-3.5" width="11" height="7"/><path d="M-7,-3.5 l0,7"/></g>
<g transform="translate(1830,1317) rotate(-30)"><rect x="-11" y="-3.5" width="11" height="7"/><path d="M-7,-3.5 l0,7"/></g>
</g><g fill="none" stroke="#000" stroke-width="1.8" stroke-linejoin="round" stroke-linecap="round">
<!-- lid 117 -->
<path d="M937.8,1959.8 L1287.6,2162.1 Q1297,2168 1293.8,2180 L1289.7,2184.9 L1047.1,2321.7 Q1025,2332 1001.5,2321.7 L910,2268 Q885,2235 859.4,2213.7 Q830,2200 800.8,2194 L695,2137.7 Q683,2130 686,2118 Q689,2108 700,2103 L922.2,1978.3 Q928,1962 937.8,1959.8 Z" stroke-width="2.1"/>
<path d="M686,2124 Q688,2136 698,2142 L800,2199 Q832,2206 860,2219 Q886,2240 910,2273 L1001,2326 Q1025,2336 1049,2326 L1290,2189" />
<path d="M922.2,1978.3 L932,1974 L1279.3,2166.2 L1273.1,2178.7 L924.2,1979.3"/>
<path d="M924.2,1983 L702,2108 Q692,2114 694,2121 Q696,2128 704,2131 L800,2185 Q835,2192 866,2207 Q893,2228 916,2260 L1005,2309 Q1025,2318 1046,2310 L1273.1,2183"/>
<path d="M800,2048.7 L965.2,2128.9 L855.7,2204.2"/>
<path d="M820.5,2037 L986.5,2118.3 L1086.5,2074"/>
<path d="M874.3,2215.9 L986.3,2141 L1151.8,2250.2"/>
<path d="M1105.1,2085.4 L1004.6,2130 L1171.5,2237.8"/>
<circle cx="1239.9" cy="2209.8" r="3.5"/><circle cx="1264.8" cy="2196.3" r="3.5"/><circle cx="1288.6" cy="2182.8" r="3"/>
<!-- top 114 -->
<path d="M549.1,2555.9 L600.2,2512.2 L840.6,2376.1 L850.3,2359.1 Q855,2353 862,2356.7 L894,2376.1 Q905,2366 918.4,2364 Q940,2364 957.2,2371.3 L1292.4,2563.2 Q1301,2570 1297.3,2580 L1280.3,2594.8 L1311.8,2621.5 L1311.8,2665.2 L1010.6,2832.8 L998.5,2830.4 L549.1,2572.9 Z" stroke-width="2.1"/>
<path d="M549.1,2555.9 L998.5,2815.8 Q1005,2818 1012,2814 L1311.8,2621.5 M998.5,2815.8 L998.5,2830.4 M1010.6,2816 L1010.6,2832.8"/>
<path d="M1001.6,2748.2 L1052,2775.6 L1304.2,2632 L1311.8,2614.5"/>
<path d="M553,2551 L604,2507 L843,2372"/>
<path d="M600.2,2512.2 L643.9,2543.7 M1243.8,2614.2 L1280.3,2594.8 M850.3,2359.1 L853,2372 L889,2392"/>
<path d="M643.9,2543.7 Q638,2532 650,2525 L889.2,2402.9 Q905,2396 923.2,2398 Q935,2399 945,2402.9 L1268.1,2577.8 Q1282,2585 1277.8,2592.3 L1253.5,2606.9 L1005.8,2747.8 Q998,2752 988,2745 L960,2730 L668,2565 Q650,2555 643.9,2543.7 Z"/>
<path d="M654,2546 Q652,2538 660,2533 L895,2410 Q912,2405 930,2410 L1258,2590 Q1263,2598 1255,2602 L1001,2740 L672,2560 Q657,2553 654,2546"/>
<path d="M665.7,2563.2 Q660,2552 670,2546 L905,2420 Q925,2412 945,2420 L1258.4,2596 M1214.7,2621.5 L1008,2734 L676,2568"/>
<path d="M868,2455 Q775,2500 773,2565 Q780,2685 1000,2693 L1222,2612 Q1232,2603 1222,2592 L945,2440 Q905,2430 868,2455 Z"/>
<path d="M720,2500 L750,2486 L768,2495 L738,2510 Z"/>
<path d="M960,2694 Q985,2690 1062,2694 L1055,2712 Q1040,2726 1010,2726 Q975,2722 962,2710 Z M965,2700 L1058,2700"/>
<path d="M976,2702 l0,5 l10,0 l0,-5 M1025,2702 l0,5 l12,0 l0,-5"/>
<circle cx="671.9" cy="2532.8" r="3"/><circle cx="725.4" cy="2503" r="3"/><circle cx="897" cy="2393" r="3"/>
<path d="M689.3,2536 L716,2521 L725.4,2524 L697,2541.5 Z" stroke-width="2.5"/>
</g>
<g stroke="#000" stroke-width="3.2" stroke-linecap="round"><path d="M847,2541 L856,2547 M796,2570 L805,2576"/></g>
<g fill="none" stroke="#000" stroke-width="1.7" stroke-linejoin="round" stroke-linecap="round">
<!-- 63 bracket -->
<path d="M1528,1542 L1815.9,1706 L1814.6,1835.3 L1777.2,1855.2 L1681.3,1783.3 L1681.3,1776"/>
<path d="M1525.3,1546 L1811.9,1708.6 M1526.1,1556.7 L1526.1,1671.3"/>
<path d="M1393.3,1608.6 L1400,1606 L1525.3,1544.7 L1528,1550 L1462.6,1592.7 L1478.6,1614 L1433.3,1640.6 L1408,1610 Z"/>
<path d="M1393.3,1608.6 L1393.3,1622 L1433.3,1642 L1433.3,1640.6 M1393.3,1623.3 L1465,1695 Q1472,1700 1480,1696 L1526.1,1671.3 L1550.6,1684.6 L1553.3,1670 Q1560,1660 1568,1666 Q1575,1672 1574.6,1682 L1576,1699.3 L1696,1764.6"/>
<path d="M1578,1702 L1690,1762" stroke-width="2.8"/>
<path d="M1654.6,1758 L1654.6,1768 L1681.3,1783.3 L1809.2,1707.3 M1654.6,1758 L1662,1756 L1685,1768 L1810,1700 M1685,1768 L1681.3,1776"/>
<path d="M1433,1640 l0,10 l4,-2 l0,-8"/>
<ellipse cx="1418" cy="1626" rx="2" ry="3"/><ellipse cx="1456" cy="1622" rx="3" ry="2"/>
<path d="M1580,1562 l0,10 l9,5 l0,-10 Z M1586,1597 l0,12 l4,2 l0,-12 Z M1625,1603 l0,12 l4,2 l0,-12 Z M1586,1628 l0,12 l4,2 l0,-12 Z M1625,1667 l0,12 l4,2 l0,-12 Z"/>
<path d="M1589,1610 L1589,1636 L1608,1648 L1608,1621 Z"/>
<circle cx="1542" cy="1567" r="2.5"/><circle cx="1556" cy="1595" r="2.5"/><circle cx="1555" cy="1613" r="2.5"/><circle cx="1569" cy="1591" r="2.5"/><circle cx="1569" cy="1615" r="2.5"/><circle cx="1564" cy="1638" r="2.5"/><circle cx="1564" cy="1654" r="2.5"/><circle cx="1608" cy="1593" r="2.5"/><circle cx="1607" cy="1696" r="2.5"/><circle cx="1620" cy="1631" r="2.5"/><circle cx="1610" cy="1689" r="2.5"/><circle cx="1661" cy="1631" r="1.8"/><circle cx="1748" cy="1681" r="1.8"/><circle cx="1649" cy="1731" r="1.8"/>
<circle cx="1581" cy="1581" r="4.5"/><circle cx="1597" cy="1643" r="4.5"/>
<path d="M1575,1565 Q1578,1558 1588,1561 Q1592,1566 1590,1570 M1762,1674 Q1765,1667 1775,1670 Q1779,1675 1777,1679"/>
<text x="0" y="0" font-size="13" transform="translate(1658,1738) rotate(28)" style="font-family:'Liberation Sans'" fill="#000" stroke="none">233D1720</text>
<!-- 6 heater -->
<g id="tube">
<path id="tp" d="M1812,1526.5 L2174,1733 A7,7 0 0 1 2166,1747 L2004,1655 A7,7 0 0 0 2000,1669 L2146,1752 A7,7 0 0 1 2138,1765 L1974,1672 A7,7 0 0 0 1970,1686 L2118,1770 A7,7 0 0 1 2109,1783 L2050,1749" stroke="#000" stroke-width="7.2"/>
<path d="M1812,1526.5 L2174,1733 A7,7 0 0 1 2166,1747 L2004,1655 A7,7 0 0 0 2000,1669 L2146,1752 A7,7 0 0 1 2138,1765 L1974,1672 A7,7 0 0 0 1970,1686 L2118,1770 A7,7 0 0 1 2109,1783 L2050,1749" stroke="#fff" stroke-width="4.4"/>
</g>
<path d="M2030,1730 L2046,1738 L2052,1734 L2052,1752 L2046,1756 L2030,1748 Z M2046,1738 L2046,1756 M2020,1722 l10,4 l0,8 l-10,-4 M2020,1734 l10,4"/>
<path d="M1774.6,1506 L1777,1504.9 L1783,1508 L1783,1522.7 L1775,1521 Z M1777,1507 L1777,1521"/>
<path d="M1784.1,1510 L1790,1505 L1800.7,1510 L1800.7,1535.7 L1794,1536 L1784.1,1531 Z M1790,1505 Q1800,1500 1810,1502.5 Q1818,1505 1819.7,1512 L1819.7,1531 L1806,1535.7 L1800.7,1535.7 M1794,1511 L1794,1536 M1800.7,1510 Q1808,1508 1819.7,1512 M1789,1506 L1806,1513"/>
<ellipse cx="1811" cy="1525.5" rx="3.5" ry="4.5" transform="rotate(-30 1811 1525.5)"/>
<ellipse cx="1788" cy="1527" rx="3.5" ry="4.5" transform="rotate(-30 1788 1527)"/>
<path d="M1786,1523 L1738,1549 M1790,1531 L1742,1557" stroke-width="1.5"/>
<path d="M1720.5,1556 L1734,1548 L1738,1550 L1740,1558 L1724,1566 Q1718,1564 1720.5,1556 Z M1734,1548 L1737,1556"/>
<path d="M1745,1550 L1739,1572" stroke-width="2.4"/>
<!-- 66 box -->
<path d="M1288,1751 L1403.5,1792.5 L1409.7,1806.4 L1468.2,1832.5 L1474.4,1843.3 L1474.4,1889.5 L1511.4,1898.8 L1513,1966.6 L1489.8,1974.3 L1428.2,1960.4 L1415,1948 L1298.8,1883.4 L1258.7,1868 L1258.7,1783.3" stroke-width="1.9"/>
<path d="M1234,1752.4 L1255.6,1738.6 L1277.2,1726.3 L1288,1729.3 L1288,1751 L1280.3,1757 L1258,1766 L1240,1777 L1234,1774 Z M1234,1752.4 L1262,1758 L1288,1751 M1240,1760 L1262,1766 L1280,1759 M1262,1758 L1262,1766 M1277.2,1726.3 L1278,1740 L1262,1748 L1255.6,1738.6"/>
<path d="M1474.4,1889.5 L1476,1966 M1489.8,1903 L1489.8,1974.3 M1474.4,1889.5 L1489.8,1903 L1511.4,1898.8"/>
<path d="M1280,1772 Q1280,1763 1290,1765 L1325,1782 Q1331,1786 1331,1795 L1331,1866 Q1331,1874 1322,1871 L1288,1855 Q1280,1850 1280,1842 Z M1284,1775 Q1284,1768 1291,1770 L1322,1785 Q1327,1789 1327,1796 L1327,1862"/>
<path d="M1348,1808 Q1348,1802 1355,1804 L1370,1811 Q1376,1815 1376,1822 L1376,1892 Q1376,1899 1369,1896 L1355,1890 Q1348,1886 1348,1880 Z"/>
<path d="M1393,1834 Q1393,1827 1402,1829 L1436,1846 Q1445,1851 1445,1860 L1445,1932 Q1445,1940 1436,1937 L1402,1921 Q1393,1916 1393,1908 Z M1397,1838 Q1397,1832 1404,1834 L1434,1849 Q1441,1854 1441,1862 L1441,1930"/>
<path d="M1258,1785 L1266,1788 L1266,1797 L1258,1795 M1257,1808 L1266,1805 L1272,1812 L1262,1816 Z M1258,1845 L1268,1843 L1270,1858 L1290,1870 L1298,1881 M1262,1848 L1262,1862"/>
<path d="M1427,1935 L1434,1930 L1450,1940 L1452,1952 L1468,1958 L1470,1966 L1452,1962 L1440,1958 M1452,1952 L1440,1958"/>
<path d="M1464,1865 L1472,1860 L1484,1866 L1484,1880 L1472,1874 Z M1466,1878 l10,5"/>
<circle cx="1337" cy="1872" r="4"/>
<!-- 27 pressure switch -->
<ellipse cx="1184" cy="1788" rx="23" ry="37" transform="rotate(-18 1184 1788)" stroke-width="2"/>
<ellipse cx="1172" cy="1792" rx="23" ry="37" transform="rotate(-18 1172 1792)"/>
<ellipse cx="1186" cy="1787" rx="18" ry="31" transform="rotate(-18 1186 1787)"/>
<path d="M1181,1770 L1181,1822 M1176,1766 L1186,1766 L1186,1774 L1176,1774 Z" />
<path d="M1149,1767 l4,0 M1148,1780 l4,0 M1153,1757 l5,-2"/>
<!-- 69 PCB -->
<path d="M1172.3,1857.4 L1180,1853.7 L1186,1857 L1186,1862 L1192,1862.4 L1339,1946.5 L1340,1950 L1347,1955 L1361.1,1963 L1361.1,2056.5 L1348,2060.3 L1200,1975.7 L1180,1962 L1172.3,1962 Z" stroke-width="1.6"/>
<path d="M1172.3,1857.4 L1172.3,1962 M1180,1962 L1348,2060.3"/>
<path d="M1172,1868 l8,-3 l0,14 l-8,3 Z M1172,1905 l8,-3 l0,22 l-8,3 Z M1172,1947 l8,-3 l0,14 l-8,3 Z M1174,1871 l4,0 M1174,1876 l4,0 M1174,1910 l4,0 M1174,1916 l4,0 M1174,1922 l4,0"/>
<path d="M1219,1920 L1226,1917 L1235,1922 L1235,1978 L1219,1970 Z M1219,1920 L1228,1925 L1235,1922 M1228,1925 L1228,1980 M1221,1935 l6,3 M1221,1944 l6,3 M1221,1953 l6,3"/>
<path d="M1235,1908 L1255,1898 Q1265,1900 1262,1914 L1242,1924 M1235,1908 L1242,1924"/>
<ellipse cx="1238" cy="1916" rx="5.5" ry="8.5"/>
<path d="M1263.5,1921 L1273,1917.3 L1284.6,1923 L1284.6,1950.5 L1275,1954 L1263.5,1948 Z M1263.5,1921 L1275,1927 L1284.6,1923 M1275,1927 L1275,1954"/>
<path d="M1300.7,1943 L1311,1938.4 L1321.9,1944 L1321.9,1967.6 L1311,1971 L1300.7,1965 Z M1300.7,1943 L1311,1949 L1321.9,1944 M1311,1949 L1311,1971"/>
<ellipse cx="1240" cy="1970" rx="8.5" ry="10.5"/><path d="M1240,1960 L1252,1958 Q1258,1965 1254,1976 L1244,1980"/>
<path d="M1243.3,1978 L1260,1969 L1275.5,1976 L1275.5,2014 L1259,2022 L1243.3,2013 Z M1243.3,1978 L1259,1986 L1275.5,1976 M1259,1986 L1259,2022"/>
<path d="M1288.6,2001 L1298,1995 L1306.8,2000 L1306.8,2032 L1297,2037 L1288.6,2032 Z M1297,2006 L1297,2037"/>
<path d="M1270.5,1965 L1285,1959.6 L1301.7,1968 L1301.7,1986 L1287,1991 L1270.5,1984 Z M1273,1972 l6,3 l0,4 l-6,-3 Z M1281,1976 l6,3 l0,4 l-6,-3 Z M1289,1980 l6,3 l0,4 l-6,-3 Z M1273,1980 l6,3 M1281,1984 l6,3"/>
<path d="M1340,1962 L1348,1958 L1354,1961 L1354,1984 L1346,1987 L1340,1984 Z M1339,2008 L1348,2004.9 L1356.6,2009 L1356.6,2022 L1348,2025 L1339,2021 Z M1343,2028 L1350,2025 L1357,2029 L1357,2050 L1350,2053 L1343,2049 Z"/>
<path d="M1307,1985 L1310,1990 L1322,1983 L1322,2025 L1314,2030 L1314,2045 L1320,2042 L1333,2035 L1333,2000 L1340,1995"/>
<path d="M1318,2050 l8,-3 l0,10 l-8,3 Z M1321,1928 l5,2 M1333,1949 l5,3 M1336,1955 l5,3"/>
</g>
<g fill="#111" stroke="none">
<ellipse cx="1291" cy="1944" rx="16" ry="20"/>
</g>
<g fill="none" stroke="#fff" stroke-width="0.8"><path d="M1291,1925 L1291,1963 M1276,1944 L1306,1944 M1280,1931 L1302,1957 M1302,1931 L1280,1957 M1285,1926 L1297,1962 M1297,1926 L1285,1962 M1276,1938 L1306,1950 M1276,1950 L1306,1938"/></g>
<g fill="none" stroke="#000" stroke-width="1.7" stroke-linejoin="round" stroke-linecap="round">
<ellipse cx="1291" cy="1944" rx="5" ry="6" fill="#fff" stroke-width="1"/>
<!-- 24 harness -->
<path d="M1620,1922 L1680,1888 L1705,1877 M1624,1926 L1684,1892 L1708,1881 M1668,1902 L1680,1902 L1704,1915 L1712,1919 M1672,1898 L1682,1896 L1706,1909 L1712,1913 M1684,1890 L1684,1904 M1687,1895 L1701,1903" stroke-width="1.4"/>
<path d="M1603,1928 L1614,1922 L1622,1927 L1622,1934 L1612,1940 L1603,1935 Z M1705,1871 L1713,1866 L1718,1872 L1718,1882 L1710,1886 L1705,1881 Z M1708,1913 L1716,1916 L1716,1922 L1708,1919 Z"/>
<!-- 64 box -->
<path d="M1542.7,1965.6 L1567.5,1978.6 L1567.5,2013 L1542.7,1998.8 Z M1542.7,1965.6 L1566.4,1953.7 L1591.2,1964.4 L1567.5,1978.6 M1591.2,1964.4 L1592.4,2003.5 L1567.5,2013 M1565.2,1944.3 L1566.4,1953.7 M1565.2,1944.3 L1591.2,1955 L1591.2,1964.4 M1572,1948 l2,8 l5,0 l-1,-6"/>
<path d="M1546,1972 l0,14 M1549,1975 l12,6 l0,5 l-12,-6 Z M1546,1990 l10,5 l0,6 M1586,2005 l6,-2 l0,6 l-6,2"/>
</g>
<g fill="none" stroke="#000" stroke-width="1.7" stroke-linejoin="round" stroke-linecap="round">
<!-- 25 bag -->
<path d="M1729.7,2068 L1908.9,1964.2 Q1920,1960 1931.6,1965.6 L2116.5,2075.1 Q2136,2088 2136.3,2110 Q2136,2132 2125,2143.4 L1920.2,2261.4 Q1908,2266 1895,2256 Q1886,2250 1874.7,2248.6 L1681.4,2140.5 Q1680,2134 1690,2125 Q1703,2110 1712,2090 Q1718,2075 1729.7,2068 Z" stroke-width="1.8"/>
<path d="M1729.7,2068 L1896,2165 M1874.7,2248.6 Q1895,2215 1915,2185 L2116.5,2075.1 M2126,2083 L1920,2190"/>
<g stroke-width="1.3"><ellipse cx="1940" cy="2085" rx="92" ry="58" transform="rotate(-6 1940 2085)"/><ellipse cx="1946" cy="2095" rx="100" ry="66" transform="rotate(-6 1946 2095)"/><ellipse cx="1958" cy="2118" rx="102" ry="64" transform="rotate(-6 1958 2118)"/><ellipse cx="1962" cy="2130" rx="96" ry="58" transform="rotate(-6 1962 2130)"/></g>
<path d="M1803.6,2097.9 L1925.9,2031 L1991.3,2069.4 L1869,2137.7 Z M1878,2056 L1942,2093 M1905,2043 L1970,2079"/>
<path d="M1812,2092 L1880,2130" stroke="#111" stroke-width="2"/>
<ellipse cx="1932" cy="2051" rx="12" ry="9" stroke-width="2.2"/><ellipse cx="1962" cy="2070" rx="12" ry="9" stroke-width="2.2"/>
<path d="M1847.7,2160.4 L2051,2041 M1849,2164 L2052,2045" stroke-width="1.3"/>
<path d="M1845,2158 l7,-4 l4,6 l-7,4 Z"/>
<path d="M1812,2069 L1826,2063 M1976,2114 L1990,2108 M1983,2186 L1998,2180"/>
<ellipse cx="1761" cy="2100" rx="9" ry="12" transform="rotate(-20 1761 2100)"/><ellipse cx="1761" cy="2100" rx="4.5" ry="6.5" transform="rotate(-20 1761 2100)"/>
<ellipse cx="1825.7" cy="2135.5" rx="9" ry="12" transform="rotate(-20 1825.7 2135.5)"/><ellipse cx="1825.7" cy="2135.5" rx="4.5" ry="6.5" transform="rotate(-20 1825.7 2135.5)"/>
<ellipse cx="1896.8" cy="2159.7" rx="9" ry="12" transform="rotate(-20 1896.8 2159.7)"/><ellipse cx="1896.8" cy="2159.7" rx="4.5" ry="6.5" transform="rotate(-20 1896.8 2159.7)"/>
<ellipse cx="1935" cy="2220" rx="9.5" ry="12.5" transform="rotate(-20 1935 2220)"/><ellipse cx="1935" cy="2220" rx="4.5" ry="6.5" transform="rotate(-20 1935 2220)"/>
<ellipse cx="1750" cy="2114" rx="2.5" ry="4"/><ellipse cx="1872" cy="2182" rx="2.5" ry="4"/><ellipse cx="1907" cy="2009" rx="3" ry="2"/><ellipse cx="2027" cy="2078" rx="3" ry="2"/>
</g>
<g fill="none" stroke="#000" stroke-linejoin="round">
<path d="M1800,2063 L1815,2057 L1821,2066 L1822,2075 L1808,2082 M1815,2057 L1818,2077" stroke-width="1.5"/><ellipse cx="1795.8" cy="2075.8" rx="12.5" ry="16" transform="rotate(-20 1795.8 2075.8)" stroke-width="5"/>
<path d="M1964,2108 L1978,2102 L1984,2110 L1985,2118 L1970,2126 M1978,2102 L1981,2120" stroke-width="1.5"/><ellipse cx="1960.7" cy="2120.6" rx="11.5" ry="13.5" transform="rotate(-20 1960.7 2120.6)" stroke-width="5"/>
<path d="M1972,2183 L1988,2177 L1994,2186 L1995,2195 L1980,2203 M1988,2177 L1991,2197 M1994,2180 L2030,2162" stroke-width="1.5"/><ellipse cx="1968.6" cy="2196" rx="12.5" ry="16" transform="rotate(-20 1968.6 2196)" stroke-width="5"/>
</g>
<g fill="#1a1a1a" stroke="none">
<path d="M1806.5,2099.3 L1906,2046.7 L1955.8,2076.5 L1869,2133.4 Z" opacity="0.9"/>
<ellipse cx="1876" cy="2096" rx="13" ry="17" fill="#000"/>
</g>
<g fill="none" stroke="#fff" stroke-width="1.3">
<path d="M1816,2100 L1906,2052 M1824,2105 L1914,2057 M1832,2110 L1922,2061 M1840,2115 L1930,2066 M1848,2120 L1938,2071 M1856,2125 L1946,2076 M1864,2130 L1952,2080"/>
</g>
<g fill="none" stroke="#000" stroke-width="1.5"><path d="M1906,2046.7 L1971.4,2080.8"/></g>
<g fill="none" stroke="#000" stroke-width="1.7" stroke-linejoin="round" stroke-linecap="round">
<!-- 15 scoop + hose -->
<path d="M1408.7,2373.3 Q1410,2358 1425,2350 Q1432,2346 1438,2346.6 L1507.3,2346.6 Q1512,2350 1510,2356 Q1498,2385 1496.6,2402.6 Q1494,2415 1492.6,2424 L1408.7,2378 Z" stroke-width="1.8"/>
<path d="M1438,2346.6 Q1470,2360 1500,2375 M1505,2352 Q1492,2380 1492.6,2424"/>
<path d="M1454,2328 L1463.3,2318.6 L1487.3,2330.6 L1490,2346 M1454,2328 L1456,2346"/>
<path d="M1515.3,2368 L1531.3,2360 L1547.3,2362.6 L1547.3,2368 L1521,2380 Z"/>
<circle cx="1472" cy="2331" r="1.8"/><circle cx="1532" cy="2366" r="1.8"/>
<path d="M1656,2265 L1666,2260 Q1675,2262 1672,2274 L1662,2280"/>
<path d="M1584,2308 L1592,2305 L1595,2318 L1608,2336" stroke-width="2"/>
<!-- 12 valve -->
<path d="M1710,2300 Q1706,2292 1716,2289 L1735,2286 L1790,2300 L1800,2292 L1828,2306 L1832,2330 L1800,2336 L1790,2341 L1768,2340 L1712,2306 Z"/>
<path d="M1716,2289 Q1726,2292 1724,2304 Q1722,2312 1712,2306 M1724,2300 L1768,2326 L1790,2330 L1800,2336 M1790,2330 Q1780,2320 1772,2326 Q1766,2334 1775,2340"/>
<path d="M1800,2292 L1812,2296 L1816,2320 L1826,2322 M1828,2306 L1836,2308 l0,6 l-4,0 M1828,2318 l8,2 l0,6 l-4,0"/>
</g>
<g fill="#333" stroke="#000" stroke-width="1.5">
<path d="M1728.6,2275 Q1728,2266 1743,2266.7 Q1758,2268 1757.9,2276 L1757,2300 Q1750,2306 1740,2304 Q1730,2300 1729,2296 Z"/>
<path d="M1758,2293 Q1758,2284 1772,2284 Q1787,2286 1787.2,2294 L1786,2314 Q1780,2319 1770,2317 Q1760,2314 1759,2310 Z"/>
<path d="M1514,2342 L1646,2265 L1658,2284 L1526,2361 Z"/>
</g>
<g fill="none" stroke="#fff" stroke-width="0.9">
<ellipse cx="1743" cy="2272" rx="9" ry="4"/><ellipse cx="1772.5" cy="2290" rx="9" ry="4"/>
<path d="M1732,2282 l24,0 M1732,2288 l24,0 M1732,2294 l24,0 M1761,2300 l24,0 M1761,2306 l24,0"/>
<path d="M1524,2340 l10,17 M1531,2336 l10,17 M1538,2332 l10,17 M1545,2328 l10,17 M1552,2324 l10,17 M1559,2320 l10,17 M1566,2316 l10,17 M1573,2312 l10,17 M1580,2308 l10,17 M1587,2304 l10,17 M1594,2300 l10,17 M1601,2296 l10,17 M1608,2292 l10,17 M1615,2288 l10,17 M1622,2284 l10,17 M1629,2280 l10,17 M1636,2276 l10,17"/>
</g>
<g fill="none" stroke="#000" stroke-width="1.6" stroke-linejoin="round" stroke-linecap="round">
<!-- 46 clamp -->
<ellipse cx="1695" cy="2251" rx="11" ry="12" transform="rotate(-20 1695 2251)"/><path d="M1684,2244 l-3,-4 M1690,2244 L1700,2260 M1696,2242 l8,14"/>
<!-- 153 spring -->
<path d="M1295.5,2370.7 Q1290,2375 1296,2378 Q1302,2379 1303,2372 L1338,2345 M1400,2293 L1448,2262 Q1455,2258 1455,2266 Q1452,2272 1445,2270"/>
<path d="M1296,2368 L1336,2340 M1398,2290 L1440,2262" stroke-width="1.1"/>
</g>
<g fill="none" stroke="#000" stroke-width="4.5" stroke-linecap="round">
<path d="M1341,2341 L1397,2293" stroke-width="18" stroke="#000"/>
</g>
<g fill="none" stroke="#fff" stroke-width="1.1">
<path d="M1336,2336 l11,13 M1342,2331 l11,13 M1348,2326 l11,13 M1354,2321 l11,13 M1360,2316 l11,13 M1366,2311 l11,13 M1372,2305 l11,13 M1378,2300 l11,13 M1384,2295 l11,13 M1390,2290 l11,13"/>
</g>
<g fill="none" stroke="#000" stroke-width="1.6" stroke-linejoin="round" stroke-linecap="round">
<!-- 105 -->
<path d="M1274.4,2240 L1280,2242 L1290,2238 L1300,2230 L1315,2222 L1322,2214 L1330,2210 Q1345,2210 1350,2216 Q1365,2223 1375,2215 L1387.6,2198" stroke-width="4.2"/>
<path d="M1274.4,2240 L1280,2242 L1290,2238 L1300,2230 L1315,2222 L1322,2214 L1330,2210 Q1345,2210 1350,2216 Q1365,2223 1375,2215 L1387.6,2198" stroke="#fff" stroke-width="1.6"/>
<!-- 3 nut, 1147 screws -->
<ellipse cx="1392" cy="2245" rx="6.5" ry="6"/><path d="M1386,2242 Q1390,2236 1398,2240"/>
<path d="M1306,2257 l6,3 M1340,2235 l6,3" stroke-width="4"/>
<path d="M1309,2259 l3,5 M1343,2237 l3,5" stroke-width="3"/>
<!-- 65 harness -->
<path d="M1300,2128 L1371.6,2086.6" stroke-width="4"/><path d="M1300,2128 L1371.6,2086.6" stroke="#fff" stroke-width="1.5"/>
<path d="M1316,2122 l10,-6 M1340,2108 l10,-6" stroke-width="4.5"/>
<path d="M1371.6,2086.6 L1380,2083 L1436,2110 L1437,2117 L1385,2146" stroke-width="1.5"/>
<path d="M1417,2093 L1440,2084 L1456,2076" stroke-width="1.5"/>
<path d="M1440,2086 Q1450,2072 1462,2076" stroke-width="3.5"/>
<path d="M1460,2070 l10,-4 l4,7 l-10,4 Z"/>
<path d="M1368,2150 L1390,2137 M1372,2154 L1394,2141 M1376,2156 L1398,2144" stroke-width="2.2"/>
</g>
<g fill="none" stroke="#000" stroke-width="1.5" stroke-linejoin="round" stroke-linecap="round">
<!-- 30 harness -->
<path d="M524.3,1771 L707.4,1668 M529,1779.5 L711.3,1673.9" stroke-width="1.6"/>
<path d="M707.4,1668 Q713,1668 711.3,1673.9"/>
<ellipse cx="526" cy="1775.3" rx="4" ry="4.6"/>
<path d="M394,1844 L443.7,1818.5 M397,1853.5 L446,1828.5 M443.7,1818.5 Q449,1822 446,1828.5" stroke-width="1.6"/>
<ellipse cx="395" cy="1848.5" rx="4" ry="5"/>
<path d="M437.8,1872.5 L533.8,1818 M439,1876.5 L535,1822" stroke-width="1.3"/>










<path d="M541,1826 L728,1720 M545,1824 L731,1716" stroke-width="1.2"/>
<path d="M488.8,1792.8 L543.3,1821.3 L545.9,1817.3 L491.4,1788.8 Z M543.3,1821.3 L543.3,1825.3 L488.8,1796.8 M545.9,1817.3 L545.9,1821.3 L543.3,1825.3" fill="#fff"/>
<path d="M507.7,1779.8 L564.6,1810.6 L567.2,1806.6 L510.3,1775.8 Z M564.6,1810.6 L564.6,1814.6 L507.7,1783.8 M567.2,1806.6 L567.2,1810.6 L564.6,1814.6" fill="#fff"/>
<path d="M533.8,1770.3 L583.6,1798.8 L586.2,1794.8 L536.4,1766.3 Z M583.6,1798.8 L583.6,1802.8 L533.8,1774.3 M586.2,1794.8 L586.2,1798.8 L583.6,1802.8" fill="#fff"/>
<path d="M551.6,1760.9 L602.5,1788.1 L605.1,1784.1 L554.2,1756.9 Z M602.5,1788.1 L602.5,1792.1 L551.6,1764.9 M605.1,1784.1 L605.1,1788.1 L602.5,1792.1" fill="#fff"/>
<path d="M595.4,1736 L646.4,1763.2 L649.0,1759.2 L598.0,1732.0 Z M646.4,1763.2 L646.4,1767.2 L595.4,1740 M649.0,1759.2 L649.0,1763.2 L646.4,1767.2" fill="#fff"/>
<path d="M631,1715.8 L680.7,1744.3 L683.3,1740.3 L633.6,1711.8 Z M680.7,1744.3 L680.7,1748.3 L631,1719.8 M683.3,1740.3 L683.3,1744.3 L680.7,1748.3" fill="#fff"/>
<path d="M646.4,1707.5 L695,1737.2 L697.6,1733.2 L649.0,1703.5 Z M695,1737.2 L695,1741.2 L646.4,1711.5 M697.6,1733.2 L697.6,1737.2 L695,1741.2" fill="#fff"/>
<path d="M661.8,1698 L711.5,1725.3 L714.1,1721.3 L664.4,1694.0 Z M711.5,1725.3 L711.5,1729.3 L661.8,1702 M714.1,1721.3 L714.1,1725.3 L711.5,1729.3" fill="#fff"/>
<path d="M678.3,1688.6 L728,1718.2 L730.6,1714.2 L680.9,1684.6 Z M728,1718.2 L728,1722.2 L678.3,1692.6 M730.6,1714.2 L730.6,1718.2 L728,1722.2" fill="#fff"/>
<path d="M703.5,1681.7 L756.9,1710.4 L759.5,1706.4 L706.1,1677.7 Z M756.9,1710.4 L756.9,1714.4 L703.5,1685.7 M759.5,1706.4 L759.5,1710.4 L756.9,1714.4" fill="#fff"/>
<path d="M390.4,1854.5 L474.5,1903 L420,1933 M362,1874.6 L394,1854.5 M510,1834.3 L600.1,1877 L590,1885" />
<path d="M484,1822.5 L600,1884 L493.5,1950.4"/>
<path d="M378.6,1897 L421.2,1873.4 M380,1901 L422,1878 M423.6,1923.2 L474.5,1900.7 M425,1927 L476,1905"/>
<path d="M344.2,1872 L360,1872 M344.2,1876 L360,1876 M346,1880 L360,1880 M360,1870 L360,1881" stroke-width="1.2"/>
<path d="M477,1950 L490,1950 M478,1955 L491,1955" stroke-width="1.2"/>
<path d="M593,1866 l6,-3 l4,5 l0,6 l-6,3 l-4,-5 Z"/>
<ellipse cx="460.3" cy="1812.8" rx="5" ry="5.5"/><ellipse cx="483.4" cy="1799.4" rx="4.5" ry="5.5"/><ellipse cx="481.7" cy="1817.8" rx="4.5" ry="5"/><ellipse cx="503.5" cy="1788" rx="4.5" ry="5"/><ellipse cx="525.5" cy="1775" rx="4" ry="5"/>
<ellipse cx="593" cy="1891.2" rx="5" ry="5.5"/><ellipse cx="552.7" cy="1914.8" rx="5" ry="5.5"/><ellipse cx="512.4" cy="1936.3" rx="5" ry="5.5"/>
<path d="M403,1838 l-11,-5 M428,1824 l-11,-5 M451,1811 l-11,-5 M498,1788 l-11,-5 M523,1772 l-11,-5 M537,1761 l-11,-5 M553,1751 l-11,-5 M615,1716 l-11,-5 M629,1707 l-11,-5 M645,1698 l-11,-5 M489,1808 l-8,-4 M558,1911 l-11,-5 M519,1934 l-11,-5 M596,1879 l-11,-5" stroke-width="1.2"/>
<g fill="#000" stroke="none"><circle cx="392" cy="1833" r="1.8"/><circle cx="417" cy="1819" r="1.8"/><circle cx="440" cy="1806" r="1.8"/><circle cx="487" cy="1783" r="1.8"/><circle cx="512" cy="1767" r="1.8"/><circle cx="526" cy="1756" r="1.8"/><circle cx="542" cy="1746" r="1.8"/><circle cx="604" cy="1711" r="1.8"/><circle cx="618" cy="1702" r="1.8"/><circle cx="634" cy="1693" r="1.8"/><circle cx="547" cy="1906" r="1.8"/><circle cx="508" cy="1929" r="1.8"/></g>
<path d="M711.3,1671 L717.8,1665.4 L800,1711 L813,1703 M751.7,1683 L780.4,1668 L797,1656 M771.2,1694.7 L810.3,1671.3 L822,1664 M756.9,1712 L768.6,1719.5 M783,1726 L818.1,1746.2 L826,1739"/>
<path d="M764,1716 l7,-3 l6,4 l0,7 l-7,3 l-6,-4 Z M778,1723 l7,-3 l6,4 l0,7 l-7,3 l-6,-4 Z"/>
<path d="M826,1737 L843,1731 L866,1707 M829,1742 L845,1736 L862,1722"/>
<path d="M826,1735 l14,-6 l4,6 l-14,6 Z"/>
<path d="M790,1654 l12,-5 l2,4 l-12,5 Z M816,1664 l10,-5 l2,4 l-10,5 Z"/>
</g>
<g fill="#222" stroke="#000" stroke-width="1.2" stroke-linejoin="round">
<path d="M717.8,1665.4 L727,1656 L745,1644 L752.3,1650 L750,1658 Z"/>
<path d="M800,1711 L808.4,1700 L820,1694.7 L825.3,1700 L816,1708 Z"/>
<path d="M707.4,1772 L730,1759.2 L736,1763 L734,1770 L712,1777.5 Z"/>
<path d="M597,1809 L605,1800 L620,1795 L627,1800 L617,1808 Z"/>
</g>
<g fill="none" stroke="#000" stroke-width="1.5" stroke-linejoin="round" stroke-linecap="round">
<path d="M707.4,1776.8 L625,1820 L592,1814 L650,1790" stroke-width="1.8"/>
<path d="M592.6,1813.4 L625,1832" />
<!-- 78 -->
<path d="M884,1877 L1044,1796 M886,1881 L1046,1800 M888,1885 L1048,1804 M890,1889 L1050,1808" stroke-width="1.4"/>
<path d="M881.5,1879 l10,-5 l4,8 l-10,5 Z" />
<path d="M1041,1800 Q1050,1790 1057,1796 M1045,1806 Q1055,1800 1060,1804" stroke-width="1.3"/>
<path d="M930,1853 l6,3 M975,1830 l6,3" stroke-width="2.2"/>
<!-- 120 -->
<path d="M835.2,1975.1 L900,1945 L903,1936 L884,1929" stroke-width="4"/>
<path d="M835.2,1975.1 L900,1945 L903,1936 L884,1929" stroke="#fff" stroke-width="1.5"/>
<path d="M850,1965 l10,-5 l3,5 l-10,5 Z M868,1957 l8,-4 l2,4 l-8,4 Z"/>
<!-- 3 nut, 1147, 1121 -->
<path d="M854,1916 l6,-3 l7,3 l0,6 l-6,3 l-7,-3 Z"/>
<path d="M800.6,1951 l7,5 M826,1937 l7,5" stroke-width="4"/><path d="M806,1955 l4,4 M831,1941 l4,4" stroke-width="2.5"/>
<path d="M976,1660 l8,6 M984,1667 l7,4" stroke-width="4"/>
<!-- 149 -->
<path d="M728.9,2020.4 L773.7,1992 L787.2,1999.1 L742.4,2025.4 Z M728.9,2020.4 L728.9,2025.4 L743.8,2032.5 L787.2,2004.1 L787.2,1999.1 M742.4,2025.4 L743.8,2032.5"/>
<path d="M742,2010 l14,8 M746,2008 l14,8 M770,1995 l12,7" stroke-width="1.3"/>
<!-- 51 -->
<path d="M658.5,2048.9 L686.9,2032.5 L697.6,2038.2 L697.6,2049.6 L670.6,2062.4 L658.5,2056.7 Z M658.5,2048.9 L670.6,2053.8 L697.6,2038.2 M670.6,2053.8 L670.6,2062.4"/>
<path d="M664.9,2061 L665.6,2085.8 L689.8,2070.9 L691.9,2052.4 M670.6,2062 L670.6,2073.7 L687.6,2064 L687.6,2053"/>
<!-- 9 pins -->
<path d="M712,2196 Q711,2189 715,2186 L717,2184 L719,2186 Q723,2189 722,2196 Q717,2200 712,2196 Z M711,2194 Q717,2199 724,2194"/>
<path d="M997,2358 Q996,2351 1001,2347 L1003,2344.6 L1005,2347 Q1010,2351 1009,2358 Q1003,2363 997,2358 Z M996,2356 Q1003,2362 1011,2356"/>
<!-- 99 latch -->
<path d="M544.1,2381.2 L570.3,2367.6 L594.5,2380.2 L568.3,2396.3 Z M544.1,2381.2 L544.1,2403.4 L552.2,2406.4 M568.3,2396.3 L568.3,2406"/>
<path d="M588.4,2378 L614,2363 M592,2381 L618.6,2367 M596,2384 L620,2371"/>
<path d="M545,2414.5 L560.2,2406.4 L618.6,2396.3 L624.7,2408.4 L621.6,2414.5 L584.4,2433.6 L558.2,2432.6 L546.1,2420.5 Z"/>
<path d="M573.3,2433.6 L577.3,2450.7 L594.5,2445.7 L616.6,2432.6 L616.6,2414 M594.5,2445.7 L594,2430"/>
<ellipse cx="560" cy="2418" rx="5" ry="6"/><ellipse cx="608" cy="2388" rx="5" ry="6"/>
<path d="M580,2420 L605,2407 L610,2412 L585,2425 Z"/>
</g>
<g fill="#111" stroke="none"><path d="M548,2382 L570,2370 L590,2380 L568,2393 Z" opacity="0.75"/><path d="M544,2386 l8,4 l0,14 l-8,-3 Z"/></g>
<g fill="none" stroke="#000" stroke-width="1.5" stroke-linejoin="round" stroke-linecap="round">
<path d="M621,2458 l0,8 M574,2484 l0,8 M1245,2541 l9,6 M794,2570 l9,6" stroke-width="3"/>
<ellipse cx="621" cy="2467" rx="3.5" ry="2.5" fill="#000"/><ellipse cx="577.5" cy="2493" rx="3.5" ry="2.5" fill="#000"/>
<!-- 143 left bracket -->
<path d="M562.6,2664.8 L603.3,2643.2 L620.7,2651.5 L580.9,2677.2 Z M562.6,2664.8 L563.5,2669.8 L575.9,2678.0 L580.9,2677.2"/>
<path d="M612.0,2645.0 l3,-6 l4,1 l-2,7 M620.0,2649.0 l3,-6 l4,1 l-2,7"/>
<path d="M563.5,2669.8 L564.3,2722.8 L575.9,2728.6 L575.9,2678.0"/>
<ellipse cx="569.5" cy="2690.5" rx="4.5" ry="6.5" fill="#fff" stroke-width="2.6"/><ellipse cx="570.0" cy="2718.0" rx="1.8" ry="2.3"/>
<circle cx="590.0" cy="2659.0" r="1.8"/><circle cx="599.0" cy="2664.0" r="1.8"/>
<!-- 143 bottom bracket -->
<path d="M924.5,2873.7 L965.2,2852.1 L982.6,2860.4 L942.8,2886.1 Z M924.5,2873.7 L925.4,2878.7 L937.8,2886.9 L942.8,2886.1"/>
<path d="M973.9,2853.9 l3,-6 l4,1 l-2,7 M981.9,2857.9 l3,-6 l4,1 l-2,7"/>
<path d="M925.4,2878.7 L926.2,2931.7 L937.8,2937.5 L937.8,2886.9"/>
<ellipse cx="931.4" cy="2899.4" rx="4.5" ry="6.5" fill="#fff" stroke-width="2.6"/><ellipse cx="931.9" cy="2926.9" rx="1.8" ry="2.3"/>
<circle cx="951.9" cy="2867.9" r="1.8"/><circle cx="960.9" cy="2872.9" r="1.8"/>
<!-- 115 -->
<path d="M696.7,2731.1 L718,2720.4 Q722,2735 741,2748.9 Q752,2755 758.9,2756.9 Q780,2765 803.3,2768.4 L803.3,2772.9 L782,2783.5 L776,2780"/>
<path d="M683.3,2732.9 L689.1,2729.8 L776.6,2779 L776,2788 L771.3,2790.6 L682.4,2742.7 Z M683.3,2732.9 L771,2782 L776.6,2779 M771,2782 L771.3,2790.6"/>
<path d="M686,2737 L771,2785 M684,2740 L769,2788" stroke-width="1.2"/>
<path d="M709,2736 l12,-7 M738,2754 l10,-6 M768,2770 l12,-7" stroke-width="3"/>
<circle cx="712" cy="2732" r="1.8"/><circle cx="782" cy="2772" r="1.8"/>
</g>
<g fill="#333" stroke="none"><path d="M683.3,2732.9 L771,2782 L771.3,2790.6 L682.4,2742.7 Z" opacity="0.85"/></g><g stroke="#fff" stroke-width="0.8"><path d="M684,2735 L771,2784 M683,2738 L771,2787"/></g>
<g fill="none" stroke="#000" stroke-width="1.5" stroke-linejoin="round" stroke-linecap="round">
<!-- 155 -->
<path d="M1097.8,2819 Q1098,2815 1102,2815.3 Q1140,2818 1182,2815.3 Q1186,2816 1185,2822 L1185,2827 L1192,2830 Q1194,2836 1186,2840 L1160,2850 Q1140,2855 1120,2850 L1094,2838 Q1088,2834 1090,2829 L1097.8,2826 Z"/>
<path d="M1101,2818 Q1112,2828 1136.9,2835.5 Q1162,2828 1182,2818 M1098,2826 Q1120,2843 1137,2846.2 Q1160,2842 1185,2827"/>
<path d="M1094,2830 Q1120,2846 1137,2849 Q1160,2846 1190,2831"/>
<path d="M1132,2853 L1132,2860 L1147,2860 L1147,2853 M1136,2855 l7,0"/>
<!-- 145 -->
<path d="M1308.2,2734.7 L1308.2,2722 Q1308,2716 1312,2714 L1343,2696.5 Q1347,2695 1346.3,2700 L1346.3,2723.1 L1367.9,2737 L1367.9,2741.4 L1343,2755.5 Q1336,2758 1329.8,2756.3 L1309,2744.7 L1308.2,2734.7"/>
<path d="M1308.2,2723 l4,2 l0,3 l-4,1 M1346.3,2709 l-5,1 l0,4 l5,1"/>
<path d="M1311,2737 L1316,2732 L1323,2741 L1316,2745 Z M1336,2723 L1341,2719 L1347,2727 L1341,2731 Z M1319,2738 L1340,2726"/>
<ellipse cx="1338.8" cy="2749.6" rx="4" ry="3"/><ellipse cx="1357.2" cy="2738.5" rx="4" ry="3"/>
</g>

<g stroke="#222" stroke-width="1.2" fill="none">
<line x1="899.0" y1="689.0" x2="943.0" y2="663.0"/>
<line x1="568.5" y1="763.6" x2="627.0" y2="799.0"/>
<line x1="721.0" y1="796.0" x2="781.0" y2="830.0"/>
<line x1="545.3" y1="897.0" x2="605.0" y2="930.0"/>
<line x1="885.0" y1="921.8" x2="926.0" y2="897.0"/>
<line x1="947.0" y1="971.5" x2="990.0" y2="945.0"/>
<line x1="999.0" y1="1003.5" x2="1043.0" y2="977.0"/>
<line x1="1032.6" y1="1048.0" x2="1073.5" y2="1025.0"/>
<line x1="1237.7" y1="968.0" x2="1288.0" y2="999.0"/>
<line x1="1190.0" y1="1074.8" x2="1147.4" y2="1100.0"/>
<line x1="452.0" y1="1110.0" x2="505.5" y2="1079.4"/>
<line x1="1457.0" y1="1113.0" x2="1510.0" y2="1146.0"/>
<line x1="1368.0" y1="1165.0" x2="1420.0" y2="1194.7"/>
<line x1="602.6" y1="1215.6" x2="654.7" y2="1184.8"/>
<line x1="665.0" y1="1250.0" x2="716.4" y2="1221.6"/>
<line x1="737.7" y1="1285.5" x2="788.6" y2="1254.7"/>
<line x1="817.8" y1="1330.2" x2="869.3" y2="1300.5"/>
<line x1="877.3" y1="1366.3" x2="929.7" y2="1336.4"/>
<line x1="1209.3" y1="1309.7" x2="1239.7" y2="1327.3"/>
<line x1="1964.3" y1="1268.8" x2="2031.0" y2="1304.3"/>
<line x1="1390.6" y1="1545.8" x2="1451.0" y2="1577.8"/>
<line x1="1970.4" y1="1599.0" x2="2037.2" y2="1566.3"/>
<line x1="925.4" y1="1633.0" x2="976.0" y2="1661.0"/>
<line x1="530.0" y1="1704.0" x2="583.5" y2="1734.8"/>
<line x1="1178.6" y1="1697.0" x2="1248.0" y2="1737.0"/>
<line x1="1089.3" y1="1735.5" x2="1141.7" y2="1766.3"/>
<line x1="920.7" y1="1797.0" x2="969.0" y2="1822.6"/>
<line x1="1121.6" y1="1889.5" x2="1166.3" y2="1912.6"/>
<line x1="805.0" y1="1892.0" x2="856.0" y2="1915.0"/>
<line x1="943.8" y1="1910.4" x2="897.6" y2="1933.5"/>
<line x1="740.5" y1="1919.6" x2="798.3" y2="1949.7"/>
<line x1="1702.6" y1="1923.0" x2="1758.3" y2="1955.0"/>
<line x1="703.5" y1="1982.0" x2="747.5" y2="2003.0"/>
<line x1="609.0" y1="2023.6" x2="655.0" y2="2044.4"/>
<line x1="2006.6" y1="2003.2" x2="2066.6" y2="1967.8"/>
<line x1="1597.0" y1="2007.0" x2="1632.7" y2="2027.2"/>
<line x1="1267.0" y1="2083.4" x2="1318.0" y2="2112.0"/>
<line x1="1444.8" y1="2170.4" x2="1393.8" y2="2196.6"/>
<line x1="1456.0" y1="2215.2" x2="1401.3" y2="2240.0"/>
<line x1="1637.0" y1="2214.4" x2="1685.4" y2="2241.6"/>
<line x1="1502.0" y1="2240.0" x2="1454.8" y2="2262.5"/>
<line x1="657.0" y1="2223.6" x2="703.5" y2="2201.2"/>
<line x1="800.8" y1="2256.7" x2="861.4" y2="2227.4"/>
<line x1="1240.8" y1="2291.0" x2="1303.0" y2="2261.3"/>
<line x1="488.7" y1="2356.0" x2="540.3" y2="2380.0"/>
<line x1="1685.4" y1="2350.3" x2="1738.0" y2="2324.6"/>
<line x1="1395.3" y1="2430.4" x2="1449.7" y2="2404.7"/>
<line x1="1197.7" y1="2436.9" x2="1134.5" y2="2468.4"/>
<line x1="518.0" y1="2519.0" x2="574.6" y2="2491.6"/>
<line x1="909.7" y1="2581.0" x2="857.6" y2="2551.0"/>
<line x1="501.3" y1="2729.5" x2="557.7" y2="2695.5"/>
<line x1="1356.3" y1="2753.0" x2="1412.7" y2="2785.3"/>
<line x1="670.6" y1="2796.4" x2="719.2" y2="2767.2"/>
<line x1="1180.7" y1="2847.4" x2="1236.5" y2="2879.0"/>
<line x1="964.5" y1="2879.0" x2="1005.8" y2="2900.8"/>
</g>
<text font-size="39.0" transform="translate(942.9,659.0) scale(1,1.02)">8<tspan fill="transparent">1</tspan></text>
<path d="M10.06,0 L13.65,0 L13.65,-27.30 L11.11,-27.30 Q8.58,-23.40 3.71,-20.48 L3.71,-17.75 Q7.41,-19.50 10.06,-22.03 Z" fill="#000" transform="translate(964.6,659.0) scale(1,1.02)"/>
<text font-size="39.0" transform="translate(526.0,766.3) scale(1,1.02)">59</text>
<text font-size="39.0" transform="translate(678.4,796.3) scale(1,1.02)">54</text>
<text font-size="39.0" transform="translate(503.7,897.0) scale(1,1.02)">40</text>
<text font-size="39.0" transform="translate(922.0,897.0) scale(1,1.02)">72</text>
<text font-size="39.0" transform="translate(988.4,941.3) scale(1,1.02)">87</text>
<text font-size="39.0" transform="translate(1041.4,977.0) scale(1,1.02)">87</text>
<text font-size="39.0" transform="translate(1068.6,1025.0) scale(1,1.02)"><tspan fill="transparent">1</tspan><tspan fill="transparent">1</tspan>55</text>
<path d="M10.06,0 L13.65,0 L13.65,-27.30 L11.11,-27.30 Q8.58,-23.40 3.71,-20.48 L3.71,-17.75 Q7.41,-19.50 10.06,-22.03 Z" fill="#000" transform="translate(1068.6,1025.0) scale(1,1.02)"/>
<path d="M10.06,0 L13.65,0 L13.65,-27.30 L11.11,-27.30 Q8.58,-23.40 3.71,-20.48 L3.71,-17.75 Q7.41,-19.50 10.06,-22.03 Z" fill="#000" transform="translate(1090.3,1025.0) scale(1,1.02)"/>
<text font-size="39.0" transform="translate(1195.8,966.6) scale(1,1.02)">23</text>
<text font-size="39.0" transform="translate(1190.2,1073.3) scale(1,1.02)">59</text>
<text font-size="39.0" transform="translate(431.4,1136.0) scale(1,1.02)">8</text>
<text font-size="39.0" transform="translate(1515.9,1169.5) scale(1,1.02)"><tspan fill="transparent">1</tspan>0</text>
<path d="M10.06,0 L13.65,0 L13.65,-27.30 L11.11,-27.30 Q8.58,-23.40 3.71,-20.48 L3.71,-17.75 Q7.41,-19.50 10.06,-22.03 Z" fill="#000" transform="translate(1515.9,1169.5) scale(1,1.02)"/>
<text font-size="39.0" transform="translate(1422.4,1223.0) scale(1,1.02)">35</text>
<text font-size="39.0" transform="translate(577.0,1240.5) scale(1,1.02)">7</text>
<text font-size="39.0" transform="translate(641.0,1278.4) scale(1,1.02)">7</text>
<text font-size="39.0" transform="translate(676.2,1311.6) scale(1,1.02)">409</text>
<text font-size="39.0" transform="translate(773.8,1355.0) scale(1,1.02)"><tspan fill="transparent">1</tspan>9</text>
<path d="M10.06,0 L13.65,0 L13.65,-27.30 L11.11,-27.30 Q8.58,-23.40 3.71,-20.48 L3.71,-17.75 Q7.41,-19.50 10.06,-22.03 Z" fill="#000" transform="translate(773.8,1355.0) scale(1,1.02)"/>
<text font-size="39.0" transform="translate(855.3,1392.4) scale(1,1.02)">8</text>
<text font-size="39.0" transform="translate(1243.0,1352.9) scale(1,1.02)"><tspan fill="transparent">1</tspan><tspan fill="transparent">1</tspan>55</text>
<path d="M10.06,0 L13.65,0 L13.65,-27.30 L11.11,-27.30 Q8.58,-23.40 3.71,-20.48 L3.71,-17.75 Q7.41,-19.50 10.06,-22.03 Z" fill="#000" transform="translate(1243.0,1352.9) scale(1,1.02)"/>
<path d="M10.06,0 L13.65,0 L13.65,-27.30 L11.11,-27.30 Q8.58,-23.40 3.71,-20.48 L3.71,-17.75 Q7.41,-19.50 10.06,-22.03 Z" fill="#000" transform="translate(1264.7,1352.9) scale(1,1.02)"/>
<text font-size="39.0" transform="translate(2031.4,1333.0) scale(1,1.02)">33</text>
<text font-size="39.0" transform="translate(1347.8,1542.2) scale(1,1.02)">63</text>
<text font-size="39.0" transform="translate(2038.5,1566.3) scale(1,1.02)">6</text>
<text font-size="39.0" transform="translate(838.9,1631.0) scale(1,1.02)"><tspan fill="transparent">1</tspan><tspan fill="transparent">1</tspan>2<tspan fill="transparent">1</tspan></text>
<path d="M10.06,0 L13.65,0 L13.65,-27.30 L11.11,-27.30 Q8.58,-23.40 3.71,-20.48 L3.71,-17.75 Q7.41,-19.50 10.06,-22.03 Z" fill="#000" transform="translate(838.9,1631.0) scale(1,1.02)"/>
<path d="M10.06,0 L13.65,0 L13.65,-27.30 L11.11,-27.30 Q8.58,-23.40 3.71,-20.48 L3.71,-17.75 Q7.41,-19.50 10.06,-22.03 Z" fill="#000" transform="translate(860.6,1631.0) scale(1,1.02)"/>
<path d="M10.06,0 L13.65,0 L13.65,-27.30 L11.11,-27.30 Q8.58,-23.40 3.71,-20.48 L3.71,-17.75 Q7.41,-19.50 10.06,-22.03 Z" fill="#000" transform="translate(904.0,1631.0) scale(1,1.02)"/>
<text font-size="39.0" transform="translate(491.7,1704.8) scale(1,1.02)">30</text>
<text font-size="39.0" transform="translate(1135.0,1697.0) scale(1,1.02)">66</text>
<text font-size="39.0" transform="translate(1048.8,1737.0) scale(1,1.02)">27</text>
<text font-size="39.0" transform="translate(879.5,1797.0) scale(1,1.02)">78</text>
<text font-size="39.0" transform="translate(1079.6,1891.0) scale(1,1.02)">69</text>
<text font-size="39.0" transform="translate(785.1,1892.0) scale(1,1.02)">3</text>
<text font-size="39.0" transform="translate(940.7,1910.4) scale(1,1.02)"><tspan fill="transparent">1</tspan>20</text>
<path d="M10.06,0 L13.65,0 L13.65,-27.30 L11.11,-27.30 Q8.58,-23.40 3.71,-20.48 L3.71,-17.75 Q7.41,-19.50 10.06,-22.03 Z" fill="#000" transform="translate(940.7,1910.4) scale(1,1.02)"/>
<text font-size="39.0" transform="translate(663.5,1922.0) scale(1,1.02)"><tspan fill="transparent">1</tspan><tspan fill="transparent">1</tspan>47</text>
<path d="M10.06,0 L13.65,0 L13.65,-27.30 L11.11,-27.30 Q8.58,-23.40 3.71,-20.48 L3.71,-17.75 Q7.41,-19.50 10.06,-22.03 Z" fill="#000" transform="translate(663.5,1922.0) scale(1,1.02)"/>
<path d="M10.06,0 L13.65,0 L13.65,-27.30 L11.11,-27.30 Q8.58,-23.40 3.71,-20.48 L3.71,-17.75 Q7.41,-19.50 10.06,-22.03 Z" fill="#000" transform="translate(685.2,1922.0) scale(1,1.02)"/>
<text font-size="39.0" transform="translate(1759.8,1982.2) scale(1,1.02)">24</text>
<text font-size="39.0" transform="translate(640.4,1982.0) scale(1,1.02)"><tspan fill="transparent">1</tspan>49</text>
<path d="M10.06,0 L13.65,0 L13.65,-27.30 L11.11,-27.30 Q8.58,-23.40 3.71,-20.48 L3.71,-17.75 Q7.41,-19.50 10.06,-22.03 Z" fill="#000" transform="translate(640.4,1982.0) scale(1,1.02)"/>
<text font-size="39.0" transform="translate(567.9,2021.0) scale(1,1.02)">5<tspan fill="transparent">1</tspan></text>
<path d="M10.06,0 L13.65,0 L13.65,-27.30 L11.11,-27.30 Q8.58,-23.40 3.71,-20.48 L3.71,-17.75 Q7.41,-19.50 10.06,-22.03 Z" fill="#000" transform="translate(589.6,2021.0) scale(1,1.02)"/>
<text font-size="39.0" transform="translate(2069.4,1966.2) scale(1,1.02)">25</text>
<text font-size="39.0" transform="translate(1633.0,2048.5) scale(1,1.02)">64</text>
<text font-size="39.0" transform="translate(1225.0,2085.8) scale(1,1.02)">65</text>
<text font-size="39.0" transform="translate(1442.9,2169.2) scale(1,1.02)"><tspan fill="transparent">1</tspan>05</text>
<path d="M10.06,0 L13.65,0 L13.65,-27.30 L11.11,-27.30 Q8.58,-23.40 3.71,-20.48 L3.71,-17.75 Q7.41,-19.50 10.06,-22.03 Z" fill="#000" transform="translate(1442.9,2169.2) scale(1,1.02)"/>
<text font-size="39.0" transform="translate(1456.9,2215.2) scale(1,1.02)">3</text>
<text font-size="39.0" transform="translate(1592.2,2214.4) scale(1,1.02)">46</text>
<text font-size="39.0" transform="translate(1502.7,2241.6) scale(1,1.02)"><tspan fill="transparent">1</tspan>53</text>
<path d="M10.06,0 L13.65,0 L13.65,-27.30 L11.11,-27.30 Q8.58,-23.40 3.71,-20.48 L3.71,-17.75 Q7.41,-19.50 10.06,-22.03 Z" fill="#000" transform="translate(1502.7,2241.6) scale(1,1.02)"/>
<text font-size="39.0" transform="translate(636.0,2249.3) scale(1,1.02)">9</text>
<text font-size="39.0" transform="translate(736.9,2284.0) scale(1,1.02)"><tspan fill="transparent">1</tspan><tspan fill="transparent">1</tspan>7</text>
<path d="M10.06,0 L13.65,0 L13.65,-27.30 L11.11,-27.30 Q8.58,-23.40 3.71,-20.48 L3.71,-17.75 Q7.41,-19.50 10.06,-22.03 Z" fill="#000" transform="translate(736.9,2284.0) scale(1,1.02)"/>
<path d="M10.06,0 L13.65,0 L13.65,-27.30 L11.11,-27.30 Q8.58,-23.40 3.71,-20.48 L3.71,-17.75 Q7.41,-19.50 10.06,-22.03 Z" fill="#000" transform="translate(758.6,2284.0) scale(1,1.02)"/>
<text font-size="39.0" transform="translate(1160.5,2322.2) scale(1,1.02)"><tspan fill="transparent">1</tspan><tspan fill="transparent">1</tspan>47</text>
<path d="M10.06,0 L13.65,0 L13.65,-27.30 L11.11,-27.30 Q8.58,-23.40 3.71,-20.48 L3.71,-17.75 Q7.41,-19.50 10.06,-22.03 Z" fill="#000" transform="translate(1160.5,2322.2) scale(1,1.02)"/>
<path d="M10.06,0 L13.65,0 L13.65,-27.30 L11.11,-27.30 Q8.58,-23.40 3.71,-20.48 L3.71,-17.75 Q7.41,-19.50 10.06,-22.03 Z" fill="#000" transform="translate(1182.2,2322.2) scale(1,1.02)"/>
<text font-size="39.0" transform="translate(445.6,2357.6) scale(1,1.02)">99</text>
<text font-size="39.0" transform="translate(1639.9,2374.5) scale(1,1.02)"><tspan fill="transparent">1</tspan>2</text>
<path d="M10.06,0 L13.65,0 L13.65,-27.30 L11.11,-27.30 Q8.58,-23.40 3.71,-20.48 L3.71,-17.75 Q7.41,-19.50 10.06,-22.03 Z" fill="#000" transform="translate(1639.9,2374.5) scale(1,1.02)"/>
<text font-size="39.0" transform="translate(1352.9,2454.6) scale(1,1.02)"><tspan fill="transparent">1</tspan>5</text>
<path d="M10.06,0 L13.65,0 L13.65,-27.30 L11.11,-27.30 Q8.58,-23.40 3.71,-20.48 L3.71,-17.75 Q7.41,-19.50 10.06,-22.03 Z" fill="#000" transform="translate(1352.9,2454.6) scale(1,1.02)"/>
<text font-size="39.0" transform="translate(1194.1,2436.5) scale(1,1.02)"><tspan fill="transparent">1</tspan><tspan fill="transparent">1</tspan>4</text>
<path d="M10.06,0 L13.65,0 L13.65,-27.30 L11.11,-27.30 Q8.58,-23.40 3.71,-20.48 L3.71,-17.75 Q7.41,-19.50 10.06,-22.03 Z" fill="#000" transform="translate(1194.1,2436.5) scale(1,1.02)"/>
<path d="M10.06,0 L13.65,0 L13.65,-27.30 L11.11,-27.30 Q8.58,-23.40 3.71,-20.48 L3.71,-17.75 Q7.41,-19.50 10.06,-22.03 Z" fill="#000" transform="translate(1215.8,2436.5) scale(1,1.02)"/>
<text font-size="39.0" transform="translate(452.4,2545.0) scale(1,1.02)">732</text>
<text font-size="39.0" transform="translate(910.4,2609.3) scale(1,1.02)"><tspan fill="transparent">1</tspan><tspan fill="transparent">1</tspan>09</text>
<path d="M10.06,0 L13.65,0 L13.65,-27.30 L11.11,-27.30 Q8.58,-23.40 3.71,-20.48 L3.71,-17.75 Q7.41,-19.50 10.06,-22.03 Z" fill="#000" transform="translate(910.4,2609.3) scale(1,1.02)"/>
<path d="M10.06,0 L13.65,0 L13.65,-27.30 L11.11,-27.30 Q8.58,-23.40 3.71,-20.48 L3.71,-17.75 Q7.41,-19.50 10.06,-22.03 Z" fill="#000" transform="translate(932.1,2609.3) scale(1,1.02)"/>
<text font-size="39.0" transform="translate(440.1,2756.8) scale(1,1.02)"><tspan fill="transparent">1</tspan>43</text>
<path d="M10.06,0 L13.65,0 L13.65,-27.30 L11.11,-27.30 Q8.58,-23.40 3.71,-20.48 L3.71,-17.75 Q7.41,-19.50 10.06,-22.03 Z" fill="#000" transform="translate(440.1,2756.8) scale(1,1.02)"/>
<text font-size="39.0" transform="translate(1413.7,2812.7) scale(1,1.02)"><tspan fill="transparent">1</tspan>45</text>
<path d="M10.06,0 L13.65,0 L13.65,-27.30 L11.11,-27.30 Q8.58,-23.40 3.71,-20.48 L3.71,-17.75 Q7.41,-19.50 10.06,-22.03 Z" fill="#000" transform="translate(1413.7,2812.7) scale(1,1.02)"/>
<text font-size="39.0" transform="translate(606.8,2825.5) scale(1,1.02)"><tspan fill="transparent">1</tspan><tspan fill="transparent">1</tspan>5</text>
<path d="M10.06,0 L13.65,0 L13.65,-27.30 L11.11,-27.30 Q8.58,-23.40 3.71,-20.48 L3.71,-17.75 Q7.41,-19.50 10.06,-22.03 Z" fill="#000" transform="translate(606.8,2825.5) scale(1,1.02)"/>
<path d="M10.06,0 L13.65,0 L13.65,-27.30 L11.11,-27.30 Q8.58,-23.40 3.71,-20.48 L3.71,-17.75 Q7.41,-19.50 10.06,-22.03 Z" fill="#000" transform="translate(628.5,2825.5) scale(1,1.02)"/>
<text font-size="39.0" transform="translate(1233.4,2908.0) scale(1,1.02)"><tspan fill="transparent">1</tspan>55</text>
<path d="M10.06,0 L13.65,0 L13.65,-27.30 L11.11,-27.30 Q8.58,-23.40 3.71,-20.48 L3.71,-17.75 Q7.41,-19.50 10.06,-22.03 Z" fill="#000" transform="translate(1233.4,2908.0) scale(1,1.02)"/>
<text font-size="39.0" transform="translate(1002.7,2927.5) scale(1,1.02)"><tspan fill="transparent">1</tspan>43</text>
<path d="M10.06,0 L13.65,0 L13.65,-27.30 L11.11,-27.30 Q8.58,-23.40 3.71,-20.48 L3.71,-17.75 Q7.41,-19.50 10.06,-22.03 Z" fill="#000" transform="translate(1002.7,2927.5) scale(1,1.02)"/>
</svg></body></html>
